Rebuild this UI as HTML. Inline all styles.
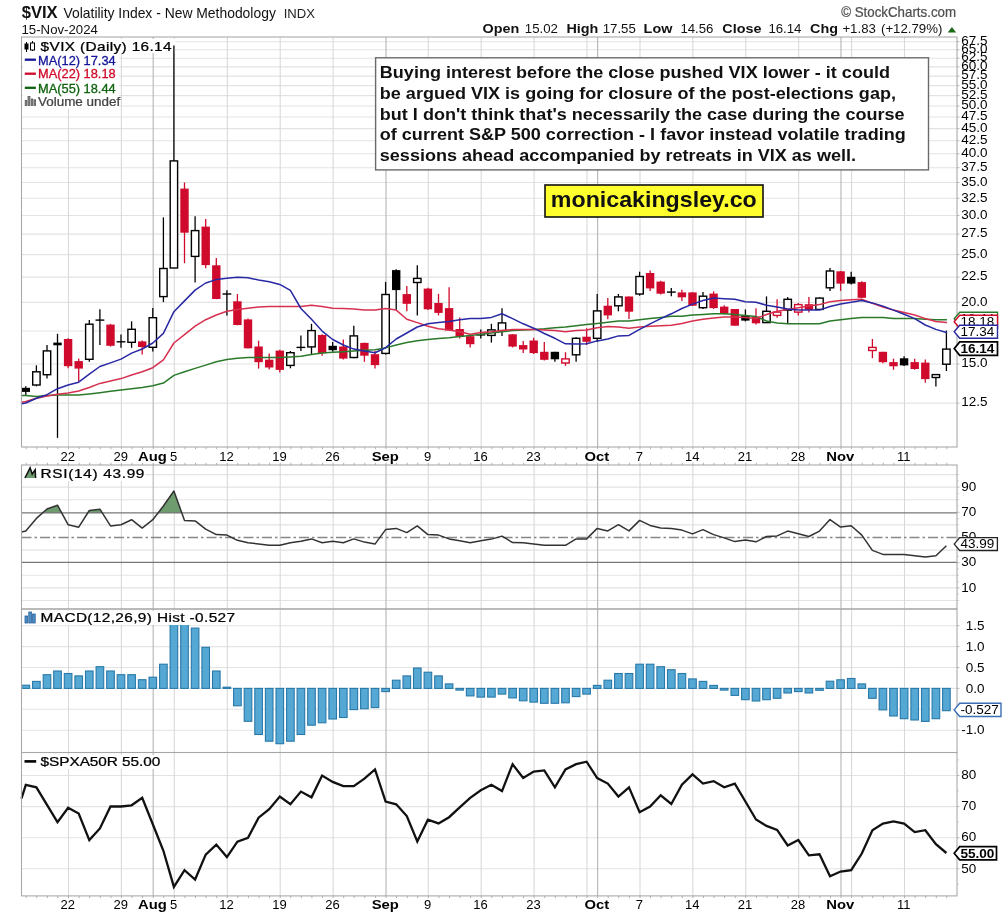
<!DOCTYPE html>
<html><head><meta charset="utf-8"><title>$VIX chart</title>
<style>html,body{margin:0;padding:0;background:#fff}body{width:1004px;height:915px;overflow:hidden;font-family:"Liberation Sans",sans-serif}svg{display:block}</style>
</head><body>
<svg width="1004" height="915" viewBox="0 0 1004 915" font-family="Liberation Sans, sans-serif">
<defs><filter id="soft" x="0" y="0" width="100%" height="100%" filterUnits="userSpaceOnUse" color-interpolation-filters="sRGB"><feGaussianBlur stdDeviation="0.45"/></filter></defs>
<g filter="url(#soft)">
<rect width="1004" height="915" fill="#fff"/>
<line x1="21.5" x2="957.0" y1="403.1" y2="403.1" stroke="#e3e3e3" stroke-width="1.1"/>
<line x1="21.5" x2="957.0" y1="364.0" y2="364.0" stroke="#e3e3e3" stroke-width="1.1"/>
<line x1="21.5" x2="957.0" y1="331.0" y2="331.0" stroke="#e3e3e3" stroke-width="1.1"/>
<line x1="21.5" x2="957.0" y1="302.4" y2="302.4" stroke="#e3e3e3" stroke-width="1.1"/>
<line x1="21.5" x2="957.0" y1="277.1" y2="277.1" stroke="#e3e3e3" stroke-width="1.1"/>
<line x1="21.5" x2="957.0" y1="254.6" y2="254.6" stroke="#e3e3e3" stroke-width="1.1"/>
<line x1="21.5" x2="957.0" y1="234.1" y2="234.1" stroke="#e3e3e3" stroke-width="1.1"/>
<line x1="21.5" x2="957.0" y1="215.5" y2="215.5" stroke="#e3e3e3" stroke-width="1.1"/>
<line x1="21.5" x2="957.0" y1="198.3" y2="198.3" stroke="#e3e3e3" stroke-width="1.1"/>
<line x1="21.5" x2="957.0" y1="182.5" y2="182.5" stroke="#e3e3e3" stroke-width="1.1"/>
<line x1="21.5" x2="957.0" y1="167.7" y2="167.7" stroke="#e3e3e3" stroke-width="1.1"/>
<line x1="21.5" x2="957.0" y1="153.8" y2="153.8" stroke="#e3e3e3" stroke-width="1.1"/>
<line x1="21.5" x2="957.0" y1="140.8" y2="140.8" stroke="#e3e3e3" stroke-width="1.1"/>
<line x1="21.5" x2="957.0" y1="128.6" y2="128.6" stroke="#e3e3e3" stroke-width="1.1"/>
<line x1="21.5" x2="957.0" y1="117.0" y2="117.0" stroke="#e3e3e3" stroke-width="1.1"/>
<line x1="21.5" x2="957.0" y1="106.0" y2="106.0" stroke="#e3e3e3" stroke-width="1.1"/>
<line x1="21.5" x2="957.0" y1="95.6" y2="95.6" stroke="#e3e3e3" stroke-width="1.1"/>
<line x1="21.5" x2="957.0" y1="85.6" y2="85.6" stroke="#e3e3e3" stroke-width="1.1"/>
<line x1="21.5" x2="957.0" y1="76.1" y2="76.1" stroke="#e3e3e3" stroke-width="1.1"/>
<line x1="21.5" x2="957.0" y1="66.9" y2="66.9" stroke="#e3e3e3" stroke-width="1.1"/>
<line x1="21.5" x2="957.0" y1="58.2" y2="58.2" stroke="#e3e3e3" stroke-width="1.1"/>
<line x1="21.5" x2="957.0" y1="49.8" y2="49.8" stroke="#e3e3e3" stroke-width="1.1"/>
<line x1="21.5" x2="957.0" y1="41.7" y2="41.7" stroke="#e3e3e3" stroke-width="1.1"/>
<line x1="68.5" x2="68.5" y1="37.0" y2="447.0" stroke="#d9d9d9" stroke-width="1.1"/>
<line x1="121.4" x2="121.4" y1="37.0" y2="447.0" stroke="#d9d9d9" stroke-width="1.1"/>
<line x1="174.3" x2="174.3" y1="37.0" y2="447.0" stroke="#d9d9d9" stroke-width="1.1"/>
<line x1="227.3" x2="227.3" y1="37.0" y2="447.0" stroke="#d9d9d9" stroke-width="1.1"/>
<line x1="280.2" x2="280.2" y1="37.0" y2="447.0" stroke="#d9d9d9" stroke-width="1.1"/>
<line x1="333.1" x2="333.1" y1="37.0" y2="447.0" stroke="#d9d9d9" stroke-width="1.1"/>
<line x1="428.3" x2="428.3" y1="37.0" y2="447.0" stroke="#d9d9d9" stroke-width="1.1"/>
<line x1="481.2" x2="481.2" y1="37.0" y2="447.0" stroke="#d9d9d9" stroke-width="1.1"/>
<line x1="534.1" x2="534.1" y1="37.0" y2="447.0" stroke="#d9d9d9" stroke-width="1.1"/>
<line x1="587.0" x2="587.0" y1="37.0" y2="447.0" stroke="#d9d9d9" stroke-width="1.1"/>
<line x1="640.0" x2="640.0" y1="37.0" y2="447.0" stroke="#d9d9d9" stroke-width="1.1"/>
<line x1="692.9" x2="692.9" y1="37.0" y2="447.0" stroke="#d9d9d9" stroke-width="1.1"/>
<line x1="745.8" x2="745.8" y1="37.0" y2="447.0" stroke="#d9d9d9" stroke-width="1.1"/>
<line x1="798.7" x2="798.7" y1="37.0" y2="447.0" stroke="#d9d9d9" stroke-width="1.1"/>
<line x1="851.6" x2="851.6" y1="37.0" y2="447.0" stroke="#d9d9d9" stroke-width="1.1"/>
<line x1="904.5" x2="904.5" y1="37.0" y2="447.0" stroke="#d9d9d9" stroke-width="1.1"/>
<line x1="153.2" x2="153.2" y1="37.0" y2="447.0" stroke="#bababa" stroke-width="1.2"/>
<line x1="386.0" x2="386.0" y1="37.0" y2="447.0" stroke="#bababa" stroke-width="1.2"/>
<line x1="597.6" x2="597.6" y1="37.0" y2="447.0" stroke="#bababa" stroke-width="1.2"/>
<line x1="841.0" x2="841.0" y1="37.0" y2="447.0" stroke="#bababa" stroke-width="1.2"/>
<rect x="23" y="39" width="152" height="14" fill="#fff"/>
<rect x="23" y="53" width="96" height="56" fill="#fff"/>
<line x1="25.8" x2="25.8" y1="386.3" y2="395.9" stroke="#000" stroke-width="1.3"/>
<rect x="21.6" y="387.8" width="8.4" height="4.1" fill="#000"/>
<line x1="36.4" x2="36.4" y1="365.3" y2="386.3" stroke="#000" stroke-width="1.3"/>
<rect x="32.7" y="371.8" width="7.4" height="13.2" fill="#fff" stroke="#000" stroke-width="1.4"/>
<line x1="47.0" x2="47.0" y1="344.9" y2="378.6" stroke="#000" stroke-width="1.3"/>
<rect x="43.3" y="350.9" width="7.4" height="23.8" fill="#fff" stroke="#000" stroke-width="1.4"/>
<line x1="57.5" x2="57.5" y1="333.8" y2="437.9" stroke="#000" stroke-width="1.3"/>
<rect x="53.3" y="342.6" width="8.4" height="2.7" fill="#000"/>
<line x1="68.1" x2="68.1" y1="338.2" y2="368.2" stroke="#cf0a2c" stroke-width="1.3"/>
<rect x="63.9" y="339.0" width="8.4" height="27.2" fill="#cf0a2c"/>
<line x1="78.7" x2="78.7" y1="358.6" y2="381.4" stroke="#cf0a2c" stroke-width="1.3"/>
<rect x="74.5" y="361.1" width="8.4" height="7.5" fill="#cf0a2c"/>
<line x1="89.3" x2="89.3" y1="320.1" y2="361.7" stroke="#000" stroke-width="1.3"/>
<rect x="85.6" y="324.2" width="7.4" height="35.1" fill="#fff" stroke="#000" stroke-width="1.4"/>
<line x1="99.9" x2="99.9" y1="309.3" y2="344.9" stroke="#000" stroke-width="1.3"/>
<line x1="95.5" x2="104.3" y1="320.1" y2="320.1" stroke="#000" stroke-width="1.4"/>
<line x1="110.5" x2="110.5" y1="323.8" y2="346.6" stroke="#cf0a2c" stroke-width="1.3"/>
<rect x="106.3" y="324.6" width="8.4" height="21.2" fill="#cf0a2c"/>
<line x1="121.0" x2="121.0" y1="334.6" y2="347.8" stroke="#000" stroke-width="1.3"/>
<line x1="116.6" x2="125.4" y1="341.8" y2="341.8" stroke="#000" stroke-width="1.4"/>
<line x1="131.6" x2="131.6" y1="321.3" y2="347.8" stroke="#000" stroke-width="1.3"/>
<rect x="127.9" y="329.3" width="7.4" height="13.0" fill="#fff" stroke="#000" stroke-width="1.4"/>
<line x1="142.2" x2="142.2" y1="340.6" y2="354.5" stroke="#cf0a2c" stroke-width="1.3"/>
<rect x="138.0" y="341.4" width="8.4" height="5.6" fill="#cf0a2c"/>
<line x1="152.8" x2="152.8" y1="308.1" y2="351.4" stroke="#000" stroke-width="1.3"/>
<rect x="149.1" y="317.7" width="7.4" height="29.6" fill="#fff" stroke="#000" stroke-width="1.4"/>
<line x1="163.4" x2="163.4" y1="217.4" y2="302.1" stroke="#000" stroke-width="1.3"/>
<rect x="159.7" y="268.5" width="7.4" height="28.1" fill="#fff" stroke="#000" stroke-width="1.4"/>
<line x1="173.9" x2="173.9" y1="45.4" y2="268.0" stroke="#000" stroke-width="1.3"/>
<rect x="170.2" y="160.9" width="7.4" height="107.1" fill="#fff" stroke="#000" stroke-width="1.4"/>
<line x1="184.5" x2="184.5" y1="182.5" y2="263.2" stroke="#cf0a2c" stroke-width="1.3"/>
<rect x="180.3" y="188.6" width="8.4" height="44.1" fill="#cf0a2c"/>
<line x1="195.1" x2="195.1" y1="216.2" y2="282.4" stroke="#000" stroke-width="1.3"/>
<rect x="191.4" y="230.6" width="7.4" height="25.8" fill="#fff" stroke="#000" stroke-width="1.4"/>
<line x1="205.7" x2="205.7" y1="219.0" y2="268.3" stroke="#cf0a2c" stroke-width="1.3"/>
<rect x="201.5" y="226.6" width="8.4" height="38.5" fill="#cf0a2c"/>
<line x1="216.3" x2="216.3" y1="258.0" y2="299.3" stroke="#cf0a2c" stroke-width="1.3"/>
<rect x="212.1" y="265.3" width="8.4" height="33.7" fill="#cf0a2c"/>
<line x1="226.9" x2="226.9" y1="290.2" y2="315.4" stroke="#000" stroke-width="1.3"/>
<line x1="222.5" x2="231.3" y1="294.0" y2="294.0" stroke="#000" stroke-width="1.4"/>
<line x1="237.4" x2="237.4" y1="294.0" y2="325.3" stroke="#cf0a2c" stroke-width="1.3"/>
<rect x="233.2" y="301.3" width="8.4" height="23.7" fill="#cf0a2c"/>
<line x1="248.0" x2="248.0" y1="318.6" y2="348.6" stroke="#cf0a2c" stroke-width="1.3"/>
<rect x="243.8" y="319.4" width="8.4" height="28.9" fill="#cf0a2c"/>
<line x1="258.6" x2="258.6" y1="340.7" y2="368.6" stroke="#cf0a2c" stroke-width="1.3"/>
<rect x="254.4" y="346.5" width="8.4" height="15.7" fill="#cf0a2c"/>
<line x1="269.2" x2="269.2" y1="353.4" y2="369.5" stroke="#cf0a2c" stroke-width="1.3"/>
<rect x="265.0" y="359.7" width="8.4" height="7.8" fill="#cf0a2c"/>
<line x1="279.8" x2="279.8" y1="349.8" y2="372.6" stroke="#cf0a2c" stroke-width="1.3"/>
<rect x="275.6" y="350.6" width="8.4" height="19.3" fill="#cf0a2c"/>
<line x1="290.4" x2="290.4" y1="351.0" y2="368.3" stroke="#000" stroke-width="1.3"/>
<rect x="286.7" y="352.7" width="7.4" height="12.7" fill="#fff" stroke="#000" stroke-width="1.4"/>
<line x1="300.9" x2="300.9" y1="335.4" y2="351.0" stroke="#000" stroke-width="1.3"/>
<line x1="296.5" x2="305.3" y1="347.4" y2="347.4" stroke="#000" stroke-width="1.4"/>
<line x1="311.5" x2="311.5" y1="323.8" y2="354.6" stroke="#000" stroke-width="1.3"/>
<rect x="307.8" y="330.6" width="7.4" height="16.3" fill="#fff" stroke="#000" stroke-width="1.4"/>
<line x1="322.1" x2="322.1" y1="334.2" y2="355.8" stroke="#cf0a2c" stroke-width="1.3"/>
<rect x="317.9" y="335.0" width="8.4" height="18.3" fill="#cf0a2c"/>
<line x1="332.7" x2="332.7" y1="342.1" y2="351.7" stroke="#000" stroke-width="1.3"/>
<rect x="328.5" y="345.8" width="8.4" height="4.4" fill="#000"/>
<line x1="343.3" x2="343.3" y1="339.5" y2="359.4" stroke="#cf0a2c" stroke-width="1.3"/>
<rect x="339.1" y="346.5" width="8.4" height="12.1" fill="#cf0a2c"/>
<line x1="353.8" x2="353.8" y1="325.8" y2="358.2" stroke="#000" stroke-width="1.3"/>
<rect x="350.1" y="335.9" width="7.4" height="21.6" fill="#fff" stroke="#000" stroke-width="1.4"/>
<line x1="364.4" x2="364.4" y1="342.6" y2="361.8" stroke="#cf0a2c" stroke-width="1.3"/>
<rect x="360.2" y="342.9" width="8.4" height="12.8" fill="#cf0a2c"/>
<line x1="375.0" x2="375.0" y1="351.0" y2="368.6" stroke="#cf0a2c" stroke-width="1.3"/>
<rect x="370.8" y="354.2" width="8.4" height="10.9" fill="#cf0a2c"/>
<line x1="385.6" x2="385.6" y1="282.0" y2="354.6" stroke="#000" stroke-width="1.3"/>
<rect x="381.9" y="294.5" width="7.4" height="58.9" fill="#fff" stroke="#000" stroke-width="1.4"/>
<line x1="396.2" x2="396.2" y1="269.3" y2="310.1" stroke="#000" stroke-width="1.3"/>
<rect x="392.0" y="270.1" width="8.4" height="20.0" fill="#000"/>
<line x1="406.8" x2="406.8" y1="286.1" y2="311.3" stroke="#cf0a2c" stroke-width="1.3"/>
<rect x="402.6" y="294.1" width="8.4" height="9.7" fill="#cf0a2c"/>
<line x1="417.3" x2="417.3" y1="265.2" y2="315.4" stroke="#000" stroke-width="1.3"/>
<rect x="413.6" y="278.4" width="7.4" height="4.1" fill="#fff" stroke="#000" stroke-width="1.4"/>
<line x1="427.9" x2="427.9" y1="287.8" y2="310.1" stroke="#cf0a2c" stroke-width="1.3"/>
<rect x="423.7" y="288.6" width="8.4" height="20.7" fill="#cf0a2c"/>
<line x1="438.5" x2="438.5" y1="293.8" y2="315.4" stroke="#cf0a2c" stroke-width="1.3"/>
<rect x="434.3" y="303.0" width="8.4" height="9.9" fill="#cf0a2c"/>
<line x1="449.1" x2="449.1" y1="287.3" y2="330.6" stroke="#cf0a2c" stroke-width="1.3"/>
<rect x="444.9" y="308.1" width="8.4" height="22.4" fill="#cf0a2c"/>
<line x1="459.7" x2="459.7" y1="317.4" y2="338.5" stroke="#cf0a2c" stroke-width="1.3"/>
<rect x="455.5" y="329.0" width="8.4" height="8.0" fill="#cf0a2c"/>
<line x1="470.2" x2="470.2" y1="335.4" y2="347.4" stroke="#cf0a2c" stroke-width="1.3"/>
<rect x="466.0" y="336.2" width="8.4" height="8.0" fill="#cf0a2c"/>
<line x1="480.8" x2="480.8" y1="329.4" y2="338.5" stroke="#000" stroke-width="1.3"/>
<line x1="476.4" x2="485.2" y1="334.9" y2="334.9" stroke="#000" stroke-width="1.4"/>
<line x1="491.4" x2="491.4" y1="323.8" y2="342.6" stroke="#000" stroke-width="1.3"/>
<rect x="487.7" y="329.9" width="7.4" height="5.5" fill="#fff" stroke="#000" stroke-width="1.4"/>
<line x1="502.0" x2="502.0" y1="308.2" y2="336.1" stroke="#000" stroke-width="1.3"/>
<rect x="498.3" y="322.9" width="7.4" height="7.7" fill="#fff" stroke="#000" stroke-width="1.4"/>
<line x1="512.6" x2="512.6" y1="334.2" y2="347.4" stroke="#cf0a2c" stroke-width="1.3"/>
<rect x="508.4" y="334.3" width="8.4" height="12.3" fill="#cf0a2c"/>
<line x1="523.2" x2="523.2" y1="340.9" y2="352.9" stroke="#cf0a2c" stroke-width="1.3"/>
<rect x="519.0" y="345.1" width="8.4" height="4.4" fill="#cf0a2c"/>
<line x1="533.7" x2="533.7" y1="337.8" y2="353.9" stroke="#cf0a2c" stroke-width="1.3"/>
<rect x="529.5" y="340.5" width="8.4" height="12.6" fill="#cf0a2c"/>
<line x1="544.3" x2="544.3" y1="341.9" y2="360.6" stroke="#cf0a2c" stroke-width="1.3"/>
<rect x="540.1" y="351.8" width="8.4" height="8.0" fill="#cf0a2c"/>
<line x1="554.9" x2="554.9" y1="351.7" y2="361.8" stroke="#000" stroke-width="1.3"/>
<rect x="550.7" y="351.8" width="8.4" height="7.5" fill="#000"/>
<line x1="565.5" x2="565.5" y1="352.2" y2="365.9" stroke="#cf0a2c" stroke-width="1.3"/>
<rect x="561.8" y="358.9" width="7.4" height="4.1" fill="#fff" stroke="#cf0a2c" stroke-width="1.4"/>
<line x1="576.1" x2="576.1" y1="337.3" y2="361.8" stroke="#000" stroke-width="1.3"/>
<rect x="572.4" y="338.3" width="7.4" height="16.5" fill="#fff" stroke="#000" stroke-width="1.4"/>
<line x1="586.6" x2="586.6" y1="328.2" y2="345.0" stroke="#cf0a2c" stroke-width="1.3"/>
<rect x="582.4" y="336.7" width="8.4" height="5.1" fill="#cf0a2c"/>
<line x1="597.2" x2="597.2" y1="294.0" y2="341.9" stroke="#000" stroke-width="1.3"/>
<rect x="593.5" y="310.9" width="7.4" height="27.4" fill="#fff" stroke="#000" stroke-width="1.4"/>
<line x1="607.8" x2="607.8" y1="298.1" y2="319.3" stroke="#cf0a2c" stroke-width="1.3"/>
<rect x="603.6" y="305.7" width="8.4" height="9.7" fill="#cf0a2c"/>
<line x1="618.4" x2="618.4" y1="294.0" y2="311.3" stroke="#000" stroke-width="1.3"/>
<rect x="614.7" y="296.9" width="7.4" height="8.9" fill="#fff" stroke="#000" stroke-width="1.4"/>
<line x1="629.0" x2="629.0" y1="296.4" y2="319.0" stroke="#cf0a2c" stroke-width="1.3"/>
<rect x="624.8" y="296.5" width="8.4" height="15.2" fill="#cf0a2c"/>
<line x1="639.6" x2="639.6" y1="271.7" y2="295.7" stroke="#000" stroke-width="1.3"/>
<rect x="635.9" y="276.5" width="7.4" height="17.5" fill="#fff" stroke="#000" stroke-width="1.4"/>
<line x1="650.1" x2="650.1" y1="270.5" y2="290.9" stroke="#cf0a2c" stroke-width="1.3"/>
<rect x="645.9" y="273.0" width="8.4" height="15.4" fill="#cf0a2c"/>
<line x1="660.7" x2="660.7" y1="280.8" y2="294.5" stroke="#cf0a2c" stroke-width="1.3"/>
<rect x="656.5" y="281.6" width="8.4" height="12.1" fill="#cf0a2c"/>
<line x1="671.3" x2="671.3" y1="288.0" y2="296.2" stroke="#000" stroke-width="1.3"/>
<line x1="666.9" x2="675.7" y1="292.1" y2="292.1" stroke="#000" stroke-width="1.4"/>
<line x1="681.9" x2="681.9" y1="289.7" y2="301.0" stroke="#cf0a2c" stroke-width="1.3"/>
<rect x="677.7" y="292.4" width="8.4" height="4.9" fill="#cf0a2c"/>
<line x1="692.5" x2="692.5" y1="292.1" y2="306.0" stroke="#cf0a2c" stroke-width="1.3"/>
<rect x="688.3" y="292.4" width="8.4" height="13.3" fill="#cf0a2c"/>
<line x1="703.0" x2="703.0" y1="292.1" y2="308.9" stroke="#000" stroke-width="1.3"/>
<rect x="699.3" y="296.2" width="7.4" height="11.5" fill="#fff" stroke="#000" stroke-width="1.4"/>
<line x1="713.6" x2="713.6" y1="291.4" y2="308.9" stroke="#cf0a2c" stroke-width="1.3"/>
<rect x="709.4" y="293.6" width="8.4" height="14.5" fill="#cf0a2c"/>
<line x1="724.2" x2="724.2" y1="305.3" y2="314.5" stroke="#cf0a2c" stroke-width="1.3"/>
<rect x="720.0" y="306.6" width="8.4" height="7.1" fill="#cf0a2c"/>
<line x1="734.8" x2="734.8" y1="308.9" y2="325.8" stroke="#cf0a2c" stroke-width="1.3"/>
<rect x="730.6" y="309.0" width="8.4" height="16.7" fill="#cf0a2c"/>
<line x1="745.4" x2="745.4" y1="309.4" y2="321.4" stroke="#000" stroke-width="1.3"/>
<rect x="741.2" y="315.8" width="8.4" height="4.8" fill="#000"/>
<line x1="756.0" x2="756.0" y1="308.2" y2="324.6" stroke="#cf0a2c" stroke-width="1.3"/>
<rect x="751.8" y="316.5" width="8.4" height="6.8" fill="#cf0a2c"/>
<line x1="766.5" x2="766.5" y1="296.4" y2="322.9" stroke="#000" stroke-width="1.3"/>
<rect x="762.8" y="311.3" width="7.4" height="11.3" fill="#fff" stroke="#000" stroke-width="1.4"/>
<line x1="777.1" x2="777.1" y1="299.3" y2="317.8" stroke="#cf0a2c" stroke-width="1.3"/>
<rect x="773.4" y="312.1" width="7.4" height="3.3" fill="#fff" stroke="#cf0a2c" stroke-width="1.4"/>
<line x1="787.7" x2="787.7" y1="296.9" y2="323.4" stroke="#000" stroke-width="1.3"/>
<rect x="784.0" y="299.3" width="7.4" height="10.8" fill="#fff" stroke="#000" stroke-width="1.4"/>
<line x1="798.3" x2="798.3" y1="302.9" y2="315.4" stroke="#cf0a2c" stroke-width="1.3"/>
<rect x="794.6" y="304.6" width="7.4" height="7.5" fill="#fff" stroke="#cf0a2c" stroke-width="1.4"/>
<line x1="808.9" x2="808.9" y1="296.9" y2="312.5" stroke="#cf0a2c" stroke-width="1.3"/>
<rect x="804.7" y="304.2" width="8.4" height="5.6" fill="#cf0a2c"/>
<line x1="819.5" x2="819.5" y1="297.4" y2="309.7" stroke="#000" stroke-width="1.3"/>
<rect x="815.8" y="298.1" width="7.4" height="11.3" fill="#fff" stroke="#000" stroke-width="1.4"/>
<line x1="830.0" x2="830.0" y1="268.1" y2="290.9" stroke="#000" stroke-width="1.3"/>
<rect x="826.3" y="271.0" width="7.4" height="16.8" fill="#fff" stroke="#000" stroke-width="1.4"/>
<line x1="840.6" x2="840.6" y1="271.0" y2="290.9" stroke="#cf0a2c" stroke-width="1.3"/>
<rect x="836.4" y="271.3" width="8.4" height="12.3" fill="#cf0a2c"/>
<line x1="851.2" x2="851.2" y1="271.7" y2="284.4" stroke="#000" stroke-width="1.3"/>
<rect x="847.0" y="276.8" width="8.4" height="6.8" fill="#000"/>
<line x1="861.8" x2="861.8" y1="281.3" y2="298.1" stroke="#cf0a2c" stroke-width="1.3"/>
<rect x="857.6" y="282.1" width="8.4" height="15.7" fill="#cf0a2c"/>
<line x1="872.4" x2="872.4" y1="339.0" y2="358.2" stroke="#cf0a2c" stroke-width="1.3"/>
<rect x="868.7" y="347.4" width="7.4" height="3.1" fill="#fff" stroke="#cf0a2c" stroke-width="1.4"/>
<line x1="882.9" x2="882.9" y1="351.7" y2="363.2" stroke="#cf0a2c" stroke-width="1.3"/>
<rect x="878.7" y="351.8" width="8.4" height="10.4" fill="#cf0a2c"/>
<line x1="893.5" x2="893.5" y1="358.7" y2="369.8" stroke="#cf0a2c" stroke-width="1.3"/>
<rect x="889.3" y="362.1" width="8.4" height="4.2" fill="#cf0a2c"/>
<line x1="904.1" x2="904.1" y1="356.3" y2="365.9" stroke="#000" stroke-width="1.3"/>
<rect x="899.9" y="358.3" width="8.4" height="7.1" fill="#000"/>
<line x1="914.7" x2="914.7" y1="358.7" y2="369.8" stroke="#cf0a2c" stroke-width="1.3"/>
<rect x="910.5" y="362.1" width="8.4" height="6.9" fill="#cf0a2c"/>
<line x1="925.3" x2="925.3" y1="359.4" y2="382.7" stroke="#cf0a2c" stroke-width="1.3"/>
<rect x="921.1" y="362.6" width="8.4" height="16.5" fill="#cf0a2c"/>
<line x1="935.9" x2="935.9" y1="374.6" y2="386.6" stroke="#000" stroke-width="1.3"/>
<rect x="932.2" y="374.6" width="7.4" height="2.9" fill="#fff" stroke="#000" stroke-width="1.4"/>
<line x1="946.4" x2="946.4" y1="330.6" y2="371.0" stroke="#000" stroke-width="1.3"/>
<rect x="942.7" y="349.1" width="7.4" height="15.1" fill="#fff" stroke="#000" stroke-width="1.4"/>
<polyline points="21.5,395.4 25.8,395.4 36.4,396.6 47.0,395.4 57.5,394.9 68.1,395.1 78.7,395.1 89.3,393.9 99.9,392.7 110.5,391.3 121.0,389.9 131.6,388.7 142.2,387.5 152.8,385.8 163.4,383.1 173.9,375.4 184.5,371.8 195.1,368.4 205.7,365.1 216.3,361.8 226.9,359.4 237.4,358.2 248.0,357.5 258.6,357.5 269.2,357.5 279.8,357.5 290.4,357.0 300.9,356.3 311.5,354.6 322.1,352.9 332.7,352.2 343.3,351.7 353.8,351.0 364.4,350.3 375.0,349.8 385.6,347.9 396.2,345.0 406.8,342.6 417.3,340.7 427.9,339.5 438.5,338.5 449.1,337.8 459.7,336.6 470.2,335.4 480.8,334.2 491.4,333.0 502.0,331.8 512.6,330.6 523.2,330.1 533.7,329.4 544.3,328.7 554.9,327.7 565.5,327.0 576.1,325.8 586.6,324.6 597.2,323.4 607.8,322.2 618.4,321.0 629.0,321.0 639.6,319.8 650.1,318.6 660.7,317.4 671.3,316.2 681.9,316.2 692.5,315.0 703.0,314.5 713.6,313.8 724.2,313.8 734.8,314.5 745.4,315.4 756.0,316.6 766.5,321.0 777.1,322.9 787.7,323.8 798.3,323.8 808.9,323.8 819.5,323.8 830.0,321.0 840.6,319.8 851.2,318.6 861.8,317.4 872.4,317.4 882.9,317.4 893.5,318.6 904.1,318.6 914.7,318.6 925.3,319.3 935.9,319.8 946.4,319.8" fill="none" stroke="#2a7a2a" stroke-width="1.5" stroke-linejoin="round" stroke-linecap="round"/>
<polyline points="21.5,402.2 25.8,401.5 36.4,398.3 47.0,395.9 57.5,394.2 68.1,393.0 78.7,391.0 89.3,387.5 99.9,383.4 110.5,381.0 121.0,378.6 131.6,375.0 142.2,371.8 152.8,367.7 163.4,359.8 173.9,343.0 184.5,334.6 195.1,326.2 205.7,319.7 216.3,315.0 226.9,311.3 237.4,309.4 248.0,308.2 258.6,307.0 269.2,306.5 279.8,306.5 290.4,306.5 300.9,306.5 311.5,305.3 322.1,306.5 332.7,308.2 343.3,308.5 353.8,308.9 364.4,310.1 375.0,310.1 385.6,308.5 396.2,310.1 406.8,319.3 417.3,322.6 427.9,326.3 438.5,328.7 449.1,330.1 459.7,331.8 470.2,334.2 480.8,332.5 491.4,331.8 502.0,330.6 512.6,329.4 523.2,329.4 533.7,329.4 544.3,330.1 554.9,330.6 565.5,331.8 576.1,330.6 586.6,330.1 597.2,327.7 607.8,326.5 618.4,327.0 629.0,328.2 639.6,327.0 650.1,326.3 660.7,325.8 671.3,325.3 681.9,323.4 692.5,321.0 703.0,319.3 713.6,318.1 724.2,316.9 734.8,316.9 745.4,317.4 756.0,318.6 766.5,314.5 777.1,311.3 787.7,309.4 798.3,307.7 808.9,306.1 819.5,304.6 830.0,301.7 840.6,300.5 851.2,299.8 861.8,299.3 872.4,303.4 882.9,307.0 893.5,310.1 904.1,312.5 914.7,315.0 925.3,318.6 935.9,321.4 946.4,322.6" fill="none" stroke="#d7304f" stroke-width="1.5" stroke-linejoin="round" stroke-linecap="round"/>
<polyline points="21.5,403.8 25.8,403.0 36.4,398.3 47.0,394.7 57.5,388.7 68.1,385.0 78.7,382.2 89.3,374.2 99.9,366.5 110.5,362.9 121.0,359.1 131.6,353.1 142.2,349.0 152.8,343.0 163.4,333.4 173.9,311.7 184.5,300.9 195.1,290.1 205.7,283.0 216.3,279.6 226.9,278.2 237.4,277.2 248.0,277.7 258.6,280.1 269.2,281.8 279.8,284.4 290.4,290.4 300.9,308.5 311.5,319.3 322.1,331.1 332.7,339.5 343.3,345.0 353.8,349.1 364.4,351.0 375.0,352.7 385.6,347.7 396.2,339.0 406.8,333.0 417.3,327.0 427.9,323.8 438.5,322.6 449.1,321.4 459.7,319.8 470.2,318.6 480.8,318.6 491.4,317.4 502.0,313.8 512.6,318.6 523.2,323.8 533.7,328.2 544.3,333.5 554.9,338.3 565.5,343.8 576.1,344.0 586.6,343.8 597.2,340.9 607.8,339.0 618.4,335.9 629.0,335.4 639.6,329.4 650.1,323.8 660.7,318.6 671.3,313.8 681.9,308.5 692.5,304.1 703.0,300.5 713.6,298.1 724.2,298.8 734.8,299.3 745.4,301.7 756.0,302.2 766.5,305.3 777.1,307.0 787.7,308.9 798.3,310.1 808.9,310.1 819.5,310.1 830.0,306.5 840.6,304.1 851.2,302.2 861.8,300.5 872.4,302.9 882.9,306.1 893.5,310.1 904.1,314.2 914.7,318.6 925.3,325.0 935.9,329.4 946.4,332.5" fill="none" stroke="#2828a4" stroke-width="1.5" stroke-linejoin="round" stroke-linecap="round"/>
<rect x="21.5" y="37.0" width="935.5" height="410.0" fill="none" stroke="#a6a6a6" stroke-width="1.05"/>
<line x1="957.0" x2="959.4" y1="403.1" y2="403.1" stroke="#b4b4b4" stroke-width="1"/>
<line x1="957.0" x2="959.4" y1="364.0" y2="364.0" stroke="#b4b4b4" stroke-width="1"/>
<line x1="957.0" x2="959.4" y1="331.0" y2="331.0" stroke="#b4b4b4" stroke-width="1"/>
<line x1="957.0" x2="959.4" y1="302.4" y2="302.4" stroke="#b4b4b4" stroke-width="1"/>
<line x1="957.0" x2="959.4" y1="277.1" y2="277.1" stroke="#b4b4b4" stroke-width="1"/>
<line x1="957.0" x2="959.4" y1="254.6" y2="254.6" stroke="#b4b4b4" stroke-width="1"/>
<line x1="957.0" x2="959.4" y1="234.1" y2="234.1" stroke="#b4b4b4" stroke-width="1"/>
<line x1="957.0" x2="959.4" y1="215.5" y2="215.5" stroke="#b4b4b4" stroke-width="1"/>
<line x1="957.0" x2="959.4" y1="198.3" y2="198.3" stroke="#b4b4b4" stroke-width="1"/>
<line x1="957.0" x2="959.4" y1="182.5" y2="182.5" stroke="#b4b4b4" stroke-width="1"/>
<line x1="957.0" x2="959.4" y1="167.7" y2="167.7" stroke="#b4b4b4" stroke-width="1"/>
<line x1="957.0" x2="959.4" y1="153.8" y2="153.8" stroke="#b4b4b4" stroke-width="1"/>
<line x1="957.0" x2="959.4" y1="140.8" y2="140.8" stroke="#b4b4b4" stroke-width="1"/>
<line x1="957.0" x2="959.4" y1="128.6" y2="128.6" stroke="#b4b4b4" stroke-width="1"/>
<line x1="957.0" x2="959.4" y1="117.0" y2="117.0" stroke="#b4b4b4" stroke-width="1"/>
<line x1="957.0" x2="959.4" y1="106.0" y2="106.0" stroke="#b4b4b4" stroke-width="1"/>
<line x1="957.0" x2="959.4" y1="95.6" y2="95.6" stroke="#b4b4b4" stroke-width="1"/>
<line x1="957.0" x2="959.4" y1="85.6" y2="85.6" stroke="#b4b4b4" stroke-width="1"/>
<line x1="957.0" x2="959.4" y1="76.1" y2="76.1" stroke="#b4b4b4" stroke-width="1"/>
<line x1="957.0" x2="959.4" y1="66.9" y2="66.9" stroke="#b4b4b4" stroke-width="1"/>
<line x1="957.0" x2="959.4" y1="58.2" y2="58.2" stroke="#b4b4b4" stroke-width="1"/>
<line x1="957.0" x2="959.4" y1="49.8" y2="49.8" stroke="#b4b4b4" stroke-width="1"/>
<line x1="957.0" x2="959.4" y1="41.7" y2="41.7" stroke="#b4b4b4" stroke-width="1"/>
<g stroke="#000" stroke-width="1" fill="#000"><line x1="26.5" x2="26.5" y1="42" y2="52"/><rect x="25.0" y="44" width="3" height="5"/><line x1="32.5" x2="32.5" y1="41" y2="51"/><rect x="30.5" y="43" width="4" height="7" fill="#fff"/></g>
<text transform="translate(40.6,50.6) scale(1.24,1)" font-size="12.4" text-anchor="start" letter-spacing="0.3" fill="#000" stroke="#000" stroke-width="0.25">$VIX (Daily) 16.14</text>
<line x1="24.8" x2="35.9" y1="59.7" y2="59.7" stroke="#15159a" stroke-width="2.3"/>
<text transform="translate(38.0,64.6) scale(1.035,1)" font-size="12.4" text-anchor="start" fill="#15159a" stroke="#15159a" stroke-width="0.3">MA(12) 17.34</text>
<line x1="24.8" x2="35.9" y1="73.7" y2="73.7" stroke="#cf0a2c" stroke-width="2.3"/>
<text transform="translate(38.0,78.4) scale(1.035,1)" font-size="12.4" text-anchor="start" fill="#cf0a2c" stroke="#cf0a2c" stroke-width="0.3">MA(22) 18.18</text>
<line x1="24.8" x2="35.9" y1="87.8" y2="87.8" stroke="#0f620f" stroke-width="2.3"/>
<text transform="translate(38.0,92.5) scale(1.035,1)" font-size="12.4" text-anchor="start" fill="#0f620f" stroke="#0f620f" stroke-width="0.3">MA(55) 18.44</text>
<g fill="#8a8a8a" stroke="#555" stroke-width="0.8"><rect x="25.2" y="100.5" width="1.6" height="5"/><rect x="28" y="96.5" width="1.9" height="9"/><rect x="31.2" y="99" width="1.6" height="6.5"/><rect x="34" y="99.8" width="1.6" height="5.7"/></g>
<text transform="translate(38.0,105.8) scale(1.085,1)" font-size="12.4" text-anchor="start" fill="#444" stroke="#444" stroke-width="0.25">Volume undef</text>
<text transform="translate(961.2,406.3) scale(1.08,1)" font-size="12.5" text-anchor="start" fill="#000" >12.5</text>
<text transform="translate(961.2,367.2) scale(1.08,1)" font-size="12.5" text-anchor="start" fill="#000" >15.0</text>
<text transform="translate(961.2,334.2) scale(1.08,1)" font-size="12.5" text-anchor="start" fill="#000" >17.5</text>
<text transform="translate(961.2,305.6) scale(1.08,1)" font-size="12.5" text-anchor="start" fill="#000" >20.0</text>
<text transform="translate(961.2,280.3) scale(1.08,1)" font-size="12.5" text-anchor="start" fill="#000" >22.5</text>
<text transform="translate(961.2,257.8) scale(1.08,1)" font-size="12.5" text-anchor="start" fill="#000" >25.0</text>
<text transform="translate(961.2,237.3) scale(1.08,1)" font-size="12.5" text-anchor="start" fill="#000" >27.5</text>
<text transform="translate(961.2,218.7) scale(1.08,1)" font-size="12.5" text-anchor="start" fill="#000" >30.0</text>
<text transform="translate(961.2,201.5) scale(1.08,1)" font-size="12.5" text-anchor="start" fill="#000" >32.5</text>
<text transform="translate(961.2,185.7) scale(1.08,1)" font-size="12.5" text-anchor="start" fill="#000" >35.0</text>
<text transform="translate(961.2,170.9) scale(1.08,1)" font-size="12.5" text-anchor="start" fill="#000" >37.5</text>
<text transform="translate(961.2,157.0) scale(1.08,1)" font-size="12.5" text-anchor="start" fill="#000" >40.0</text>
<text transform="translate(961.2,144.0) scale(1.08,1)" font-size="12.5" text-anchor="start" fill="#000" >42.5</text>
<text transform="translate(961.2,131.8) scale(1.08,1)" font-size="12.5" text-anchor="start" fill="#000" >45.0</text>
<text transform="translate(961.2,120.2) scale(1.08,1)" font-size="12.5" text-anchor="start" fill="#000" >47.5</text>
<text transform="translate(961.2,109.2) scale(1.08,1)" font-size="12.5" text-anchor="start" fill="#000" >50.0</text>
<text transform="translate(961.2,98.8) scale(1.08,1)" font-size="12.5" text-anchor="start" fill="#000" >52.5</text>
<text transform="translate(961.2,88.8) scale(1.08,1)" font-size="12.5" text-anchor="start" fill="#000" >55.0</text>
<text transform="translate(961.2,79.3) scale(1.08,1)" font-size="12.5" text-anchor="start" fill="#000" >57.5</text>
<text transform="translate(961.2,70.1) scale(1.08,1)" font-size="12.5" text-anchor="start" fill="#000" >60.0</text>
<text transform="translate(961.2,61.4) scale(1.08,1)" font-size="12.5" text-anchor="start" fill="#000" >62.5</text>
<text transform="translate(961.2,53.0) scale(1.08,1)" font-size="12.5" text-anchor="start" fill="#000" >65.0</text>
<text transform="translate(961.2,44.9) scale(1.08,1)" font-size="12.5" text-anchor="start" fill="#000" >67.5</text>
<polygon points="954.2,318.8 959.7,312.3 997.5,312.3 997.5,325.3 959.7,325.3" fill="#fff" stroke="#2a7a2a" stroke-width="1.4" stroke-linejoin="miter"/>
<text transform="translate(960.4,323.1) scale(1.08,1)" font-size="12.5" text-anchor="start" fill="#000" >18.44</text>
<polygon points="954.2,321.8 959.7,315.3 997.5,315.3 997.5,328.3 959.7,328.3" fill="#fff" stroke="#cf0a2c" stroke-width="1.4" stroke-linejoin="miter"/>
<text transform="translate(960.4,326.1) scale(1.08,1)" font-size="12.5" text-anchor="start" fill="#000" >18.18</text>
<polygon points="954.2,331.8 959.7,325.3 997.5,325.3 997.5,338.3 959.7,338.3" fill="#fff" stroke="#2a2aa0" stroke-width="1.4" stroke-linejoin="miter"/>
<text transform="translate(960.4,336.1) scale(1.08,1)" font-size="12.5" text-anchor="start" fill="#000" >17.34</text>
<polygon points="954.2,348.6 959.7,341.9 997.5,341.9 997.5,355.3 959.7,355.3" fill="#fff" stroke="#000" stroke-width="1.7" stroke-linejoin="miter"/>
<text transform="translate(960.4,353.1) scale(1.0,1)" font-size="13.6" text-anchor="start" font-weight="bold" fill="#000" >16.14</text>
<rect x="375.6" y="57.8" width="552.9" height="112.1" fill="#fff" stroke="#6a6a6a" stroke-width="1.4"/>
<text transform="translate(379.8,78.4) scale(1.037,1)" font-size="17.4" text-anchor="start" font-weight="bold" fill="#111" >Buying interest before the close pushed VIX lower - it could</text>
<text transform="translate(379.8,99.0) scale(1.037,1)" font-size="17.4" text-anchor="start" font-weight="bold" fill="#111" >be argued VIX is going for closure of the post-elections gap,</text>
<text transform="translate(379.8,119.5) scale(1.037,1)" font-size="17.4" text-anchor="start" font-weight="bold" fill="#111" >but I don't think that's necessarily the case during the course</text>
<text transform="translate(379.8,140.1) scale(1.037,1)" font-size="17.4" text-anchor="start" font-weight="bold" fill="#111" >of current S&amp;P 500 correction - I favor instead volatile trading</text>
<text transform="translate(379.8,160.6) scale(1.037,1)" font-size="17.4" text-anchor="start" font-weight="bold" fill="#111" >sessions ahead accompanied by retreats in VIX as well.</text>
<rect x="545" y="185" width="218" height="32" fill="#ffff2e" stroke="#111" stroke-width="1.6"/>
<text transform="translate(653.8,207.4) scale(1.08,1)" font-size="21.5" text-anchor="middle" font-weight="bold" fill="#111" >monicakingsley.co</text>
<line x1="26.2" x2="26.2" y1="447.0" y2="449.2" stroke="#b0b0b0" stroke-width="1"/>
<line x1="36.8" x2="36.8" y1="447.0" y2="449.2" stroke="#b0b0b0" stroke-width="1"/>
<line x1="47.4" x2="47.4" y1="447.0" y2="449.2" stroke="#b0b0b0" stroke-width="1"/>
<line x1="57.9" x2="57.9" y1="447.0" y2="449.2" stroke="#b0b0b0" stroke-width="1"/>
<line x1="68.5" x2="68.5" y1="447.0" y2="449.2" stroke="#b0b0b0" stroke-width="1"/>
<line x1="79.1" x2="79.1" y1="447.0" y2="449.2" stroke="#b0b0b0" stroke-width="1"/>
<line x1="89.7" x2="89.7" y1="447.0" y2="449.2" stroke="#b0b0b0" stroke-width="1"/>
<line x1="100.3" x2="100.3" y1="447.0" y2="449.2" stroke="#b0b0b0" stroke-width="1"/>
<line x1="110.9" x2="110.9" y1="447.0" y2="449.2" stroke="#b0b0b0" stroke-width="1"/>
<line x1="121.4" x2="121.4" y1="447.0" y2="449.2" stroke="#b0b0b0" stroke-width="1"/>
<line x1="132.0" x2="132.0" y1="447.0" y2="449.2" stroke="#b0b0b0" stroke-width="1"/>
<line x1="142.6" x2="142.6" y1="447.0" y2="449.2" stroke="#b0b0b0" stroke-width="1"/>
<line x1="153.2" x2="153.2" y1="447.0" y2="449.2" stroke="#b0b0b0" stroke-width="1"/>
<line x1="163.8" x2="163.8" y1="447.0" y2="449.2" stroke="#b0b0b0" stroke-width="1"/>
<line x1="174.3" x2="174.3" y1="447.0" y2="449.2" stroke="#b0b0b0" stroke-width="1"/>
<line x1="184.9" x2="184.9" y1="447.0" y2="449.2" stroke="#b0b0b0" stroke-width="1"/>
<line x1="195.5" x2="195.5" y1="447.0" y2="449.2" stroke="#b0b0b0" stroke-width="1"/>
<line x1="206.1" x2="206.1" y1="447.0" y2="449.2" stroke="#b0b0b0" stroke-width="1"/>
<line x1="216.7" x2="216.7" y1="447.0" y2="449.2" stroke="#b0b0b0" stroke-width="1"/>
<line x1="227.3" x2="227.3" y1="447.0" y2="449.2" stroke="#b0b0b0" stroke-width="1"/>
<line x1="237.8" x2="237.8" y1="447.0" y2="449.2" stroke="#b0b0b0" stroke-width="1"/>
<line x1="248.4" x2="248.4" y1="447.0" y2="449.2" stroke="#b0b0b0" stroke-width="1"/>
<line x1="259.0" x2="259.0" y1="447.0" y2="449.2" stroke="#b0b0b0" stroke-width="1"/>
<line x1="269.6" x2="269.6" y1="447.0" y2="449.2" stroke="#b0b0b0" stroke-width="1"/>
<line x1="280.2" x2="280.2" y1="447.0" y2="449.2" stroke="#b0b0b0" stroke-width="1"/>
<line x1="290.8" x2="290.8" y1="447.0" y2="449.2" stroke="#b0b0b0" stroke-width="1"/>
<line x1="301.3" x2="301.3" y1="447.0" y2="449.2" stroke="#b0b0b0" stroke-width="1"/>
<line x1="311.9" x2="311.9" y1="447.0" y2="449.2" stroke="#b0b0b0" stroke-width="1"/>
<line x1="322.5" x2="322.5" y1="447.0" y2="449.2" stroke="#b0b0b0" stroke-width="1"/>
<line x1="333.1" x2="333.1" y1="447.0" y2="449.2" stroke="#b0b0b0" stroke-width="1"/>
<line x1="343.7" x2="343.7" y1="447.0" y2="449.2" stroke="#b0b0b0" stroke-width="1"/>
<line x1="354.2" x2="354.2" y1="447.0" y2="449.2" stroke="#b0b0b0" stroke-width="1"/>
<line x1="364.8" x2="364.8" y1="447.0" y2="449.2" stroke="#b0b0b0" stroke-width="1"/>
<line x1="375.4" x2="375.4" y1="447.0" y2="449.2" stroke="#b0b0b0" stroke-width="1"/>
<line x1="386.0" x2="386.0" y1="447.0" y2="449.2" stroke="#b0b0b0" stroke-width="1"/>
<line x1="396.6" x2="396.6" y1="447.0" y2="449.2" stroke="#b0b0b0" stroke-width="1"/>
<line x1="407.2" x2="407.2" y1="447.0" y2="449.2" stroke="#b0b0b0" stroke-width="1"/>
<line x1="417.7" x2="417.7" y1="447.0" y2="449.2" stroke="#b0b0b0" stroke-width="1"/>
<line x1="428.3" x2="428.3" y1="447.0" y2="449.2" stroke="#b0b0b0" stroke-width="1"/>
<line x1="438.9" x2="438.9" y1="447.0" y2="449.2" stroke="#b0b0b0" stroke-width="1"/>
<line x1="449.5" x2="449.5" y1="447.0" y2="449.2" stroke="#b0b0b0" stroke-width="1"/>
<line x1="460.1" x2="460.1" y1="447.0" y2="449.2" stroke="#b0b0b0" stroke-width="1"/>
<line x1="470.6" x2="470.6" y1="447.0" y2="449.2" stroke="#b0b0b0" stroke-width="1"/>
<line x1="481.2" x2="481.2" y1="447.0" y2="449.2" stroke="#b0b0b0" stroke-width="1"/>
<line x1="491.8" x2="491.8" y1="447.0" y2="449.2" stroke="#b0b0b0" stroke-width="1"/>
<line x1="502.4" x2="502.4" y1="447.0" y2="449.2" stroke="#b0b0b0" stroke-width="1"/>
<line x1="513.0" x2="513.0" y1="447.0" y2="449.2" stroke="#b0b0b0" stroke-width="1"/>
<line x1="523.6" x2="523.6" y1="447.0" y2="449.2" stroke="#b0b0b0" stroke-width="1"/>
<line x1="534.1" x2="534.1" y1="447.0" y2="449.2" stroke="#b0b0b0" stroke-width="1"/>
<line x1="544.7" x2="544.7" y1="447.0" y2="449.2" stroke="#b0b0b0" stroke-width="1"/>
<line x1="555.3" x2="555.3" y1="447.0" y2="449.2" stroke="#b0b0b0" stroke-width="1"/>
<line x1="565.9" x2="565.9" y1="447.0" y2="449.2" stroke="#b0b0b0" stroke-width="1"/>
<line x1="576.5" x2="576.5" y1="447.0" y2="449.2" stroke="#b0b0b0" stroke-width="1"/>
<line x1="587.0" x2="587.0" y1="447.0" y2="449.2" stroke="#b0b0b0" stroke-width="1"/>
<line x1="597.6" x2="597.6" y1="447.0" y2="449.2" stroke="#b0b0b0" stroke-width="1"/>
<line x1="608.2" x2="608.2" y1="447.0" y2="449.2" stroke="#b0b0b0" stroke-width="1"/>
<line x1="618.8" x2="618.8" y1="447.0" y2="449.2" stroke="#b0b0b0" stroke-width="1"/>
<line x1="629.4" x2="629.4" y1="447.0" y2="449.2" stroke="#b0b0b0" stroke-width="1"/>
<line x1="640.0" x2="640.0" y1="447.0" y2="449.2" stroke="#b0b0b0" stroke-width="1"/>
<line x1="650.5" x2="650.5" y1="447.0" y2="449.2" stroke="#b0b0b0" stroke-width="1"/>
<line x1="661.1" x2="661.1" y1="447.0" y2="449.2" stroke="#b0b0b0" stroke-width="1"/>
<line x1="671.7" x2="671.7" y1="447.0" y2="449.2" stroke="#b0b0b0" stroke-width="1"/>
<line x1="682.3" x2="682.3" y1="447.0" y2="449.2" stroke="#b0b0b0" stroke-width="1"/>
<line x1="692.9" x2="692.9" y1="447.0" y2="449.2" stroke="#b0b0b0" stroke-width="1"/>
<line x1="703.4" x2="703.4" y1="447.0" y2="449.2" stroke="#b0b0b0" stroke-width="1"/>
<line x1="714.0" x2="714.0" y1="447.0" y2="449.2" stroke="#b0b0b0" stroke-width="1"/>
<line x1="724.6" x2="724.6" y1="447.0" y2="449.2" stroke="#b0b0b0" stroke-width="1"/>
<line x1="735.2" x2="735.2" y1="447.0" y2="449.2" stroke="#b0b0b0" stroke-width="1"/>
<line x1="745.8" x2="745.8" y1="447.0" y2="449.2" stroke="#b0b0b0" stroke-width="1"/>
<line x1="756.4" x2="756.4" y1="447.0" y2="449.2" stroke="#b0b0b0" stroke-width="1"/>
<line x1="766.9" x2="766.9" y1="447.0" y2="449.2" stroke="#b0b0b0" stroke-width="1"/>
<line x1="777.5" x2="777.5" y1="447.0" y2="449.2" stroke="#b0b0b0" stroke-width="1"/>
<line x1="788.1" x2="788.1" y1="447.0" y2="449.2" stroke="#b0b0b0" stroke-width="1"/>
<line x1="798.7" x2="798.7" y1="447.0" y2="449.2" stroke="#b0b0b0" stroke-width="1"/>
<line x1="809.3" x2="809.3" y1="447.0" y2="449.2" stroke="#b0b0b0" stroke-width="1"/>
<line x1="819.9" x2="819.9" y1="447.0" y2="449.2" stroke="#b0b0b0" stroke-width="1"/>
<line x1="830.4" x2="830.4" y1="447.0" y2="449.2" stroke="#b0b0b0" stroke-width="1"/>
<line x1="841.0" x2="841.0" y1="447.0" y2="449.2" stroke="#b0b0b0" stroke-width="1"/>
<line x1="851.6" x2="851.6" y1="447.0" y2="449.2" stroke="#b0b0b0" stroke-width="1"/>
<line x1="862.2" x2="862.2" y1="447.0" y2="449.2" stroke="#b0b0b0" stroke-width="1"/>
<line x1="872.8" x2="872.8" y1="447.0" y2="449.2" stroke="#b0b0b0" stroke-width="1"/>
<line x1="883.3" x2="883.3" y1="447.0" y2="449.2" stroke="#b0b0b0" stroke-width="1"/>
<line x1="893.9" x2="893.9" y1="447.0" y2="449.2" stroke="#b0b0b0" stroke-width="1"/>
<line x1="904.5" x2="904.5" y1="447.0" y2="449.2" stroke="#b0b0b0" stroke-width="1"/>
<line x1="915.1" x2="915.1" y1="447.0" y2="449.2" stroke="#b0b0b0" stroke-width="1"/>
<line x1="925.7" x2="925.7" y1="447.0" y2="449.2" stroke="#b0b0b0" stroke-width="1"/>
<line x1="936.3" x2="936.3" y1="447.0" y2="449.2" stroke="#b0b0b0" stroke-width="1"/>
<line x1="946.8" x2="946.8" y1="447.0" y2="449.2" stroke="#b0b0b0" stroke-width="1"/>
<line x1="26.2" x2="26.2" y1="462.8" y2="465.0" stroke="#b0b0b0" stroke-width="1"/>
<line x1="36.8" x2="36.8" y1="462.8" y2="465.0" stroke="#b0b0b0" stroke-width="1"/>
<line x1="47.4" x2="47.4" y1="462.8" y2="465.0" stroke="#b0b0b0" stroke-width="1"/>
<line x1="57.9" x2="57.9" y1="462.8" y2="465.0" stroke="#b0b0b0" stroke-width="1"/>
<line x1="68.5" x2="68.5" y1="462.8" y2="465.0" stroke="#b0b0b0" stroke-width="1"/>
<line x1="79.1" x2="79.1" y1="462.8" y2="465.0" stroke="#b0b0b0" stroke-width="1"/>
<line x1="89.7" x2="89.7" y1="462.8" y2="465.0" stroke="#b0b0b0" stroke-width="1"/>
<line x1="100.3" x2="100.3" y1="462.8" y2="465.0" stroke="#b0b0b0" stroke-width="1"/>
<line x1="110.9" x2="110.9" y1="462.8" y2="465.0" stroke="#b0b0b0" stroke-width="1"/>
<line x1="121.4" x2="121.4" y1="462.8" y2="465.0" stroke="#b0b0b0" stroke-width="1"/>
<line x1="132.0" x2="132.0" y1="462.8" y2="465.0" stroke="#b0b0b0" stroke-width="1"/>
<line x1="142.6" x2="142.6" y1="462.8" y2="465.0" stroke="#b0b0b0" stroke-width="1"/>
<line x1="153.2" x2="153.2" y1="462.8" y2="465.0" stroke="#b0b0b0" stroke-width="1"/>
<line x1="163.8" x2="163.8" y1="462.8" y2="465.0" stroke="#b0b0b0" stroke-width="1"/>
<line x1="174.3" x2="174.3" y1="462.8" y2="465.0" stroke="#b0b0b0" stroke-width="1"/>
<line x1="184.9" x2="184.9" y1="462.8" y2="465.0" stroke="#b0b0b0" stroke-width="1"/>
<line x1="195.5" x2="195.5" y1="462.8" y2="465.0" stroke="#b0b0b0" stroke-width="1"/>
<line x1="206.1" x2="206.1" y1="462.8" y2="465.0" stroke="#b0b0b0" stroke-width="1"/>
<line x1="216.7" x2="216.7" y1="462.8" y2="465.0" stroke="#b0b0b0" stroke-width="1"/>
<line x1="227.3" x2="227.3" y1="462.8" y2="465.0" stroke="#b0b0b0" stroke-width="1"/>
<line x1="237.8" x2="237.8" y1="462.8" y2="465.0" stroke="#b0b0b0" stroke-width="1"/>
<line x1="248.4" x2="248.4" y1="462.8" y2="465.0" stroke="#b0b0b0" stroke-width="1"/>
<line x1="259.0" x2="259.0" y1="462.8" y2="465.0" stroke="#b0b0b0" stroke-width="1"/>
<line x1="269.6" x2="269.6" y1="462.8" y2="465.0" stroke="#b0b0b0" stroke-width="1"/>
<line x1="280.2" x2="280.2" y1="462.8" y2="465.0" stroke="#b0b0b0" stroke-width="1"/>
<line x1="290.8" x2="290.8" y1="462.8" y2="465.0" stroke="#b0b0b0" stroke-width="1"/>
<line x1="301.3" x2="301.3" y1="462.8" y2="465.0" stroke="#b0b0b0" stroke-width="1"/>
<line x1="311.9" x2="311.9" y1="462.8" y2="465.0" stroke="#b0b0b0" stroke-width="1"/>
<line x1="322.5" x2="322.5" y1="462.8" y2="465.0" stroke="#b0b0b0" stroke-width="1"/>
<line x1="333.1" x2="333.1" y1="462.8" y2="465.0" stroke="#b0b0b0" stroke-width="1"/>
<line x1="343.7" x2="343.7" y1="462.8" y2="465.0" stroke="#b0b0b0" stroke-width="1"/>
<line x1="354.2" x2="354.2" y1="462.8" y2="465.0" stroke="#b0b0b0" stroke-width="1"/>
<line x1="364.8" x2="364.8" y1="462.8" y2="465.0" stroke="#b0b0b0" stroke-width="1"/>
<line x1="375.4" x2="375.4" y1="462.8" y2="465.0" stroke="#b0b0b0" stroke-width="1"/>
<line x1="386.0" x2="386.0" y1="462.8" y2="465.0" stroke="#b0b0b0" stroke-width="1"/>
<line x1="396.6" x2="396.6" y1="462.8" y2="465.0" stroke="#b0b0b0" stroke-width="1"/>
<line x1="407.2" x2="407.2" y1="462.8" y2="465.0" stroke="#b0b0b0" stroke-width="1"/>
<line x1="417.7" x2="417.7" y1="462.8" y2="465.0" stroke="#b0b0b0" stroke-width="1"/>
<line x1="428.3" x2="428.3" y1="462.8" y2="465.0" stroke="#b0b0b0" stroke-width="1"/>
<line x1="438.9" x2="438.9" y1="462.8" y2="465.0" stroke="#b0b0b0" stroke-width="1"/>
<line x1="449.5" x2="449.5" y1="462.8" y2="465.0" stroke="#b0b0b0" stroke-width="1"/>
<line x1="460.1" x2="460.1" y1="462.8" y2="465.0" stroke="#b0b0b0" stroke-width="1"/>
<line x1="470.6" x2="470.6" y1="462.8" y2="465.0" stroke="#b0b0b0" stroke-width="1"/>
<line x1="481.2" x2="481.2" y1="462.8" y2="465.0" stroke="#b0b0b0" stroke-width="1"/>
<line x1="491.8" x2="491.8" y1="462.8" y2="465.0" stroke="#b0b0b0" stroke-width="1"/>
<line x1="502.4" x2="502.4" y1="462.8" y2="465.0" stroke="#b0b0b0" stroke-width="1"/>
<line x1="513.0" x2="513.0" y1="462.8" y2="465.0" stroke="#b0b0b0" stroke-width="1"/>
<line x1="523.6" x2="523.6" y1="462.8" y2="465.0" stroke="#b0b0b0" stroke-width="1"/>
<line x1="534.1" x2="534.1" y1="462.8" y2="465.0" stroke="#b0b0b0" stroke-width="1"/>
<line x1="544.7" x2="544.7" y1="462.8" y2="465.0" stroke="#b0b0b0" stroke-width="1"/>
<line x1="555.3" x2="555.3" y1="462.8" y2="465.0" stroke="#b0b0b0" stroke-width="1"/>
<line x1="565.9" x2="565.9" y1="462.8" y2="465.0" stroke="#b0b0b0" stroke-width="1"/>
<line x1="576.5" x2="576.5" y1="462.8" y2="465.0" stroke="#b0b0b0" stroke-width="1"/>
<line x1="587.0" x2="587.0" y1="462.8" y2="465.0" stroke="#b0b0b0" stroke-width="1"/>
<line x1="597.6" x2="597.6" y1="462.8" y2="465.0" stroke="#b0b0b0" stroke-width="1"/>
<line x1="608.2" x2="608.2" y1="462.8" y2="465.0" stroke="#b0b0b0" stroke-width="1"/>
<line x1="618.8" x2="618.8" y1="462.8" y2="465.0" stroke="#b0b0b0" stroke-width="1"/>
<line x1="629.4" x2="629.4" y1="462.8" y2="465.0" stroke="#b0b0b0" stroke-width="1"/>
<line x1="640.0" x2="640.0" y1="462.8" y2="465.0" stroke="#b0b0b0" stroke-width="1"/>
<line x1="650.5" x2="650.5" y1="462.8" y2="465.0" stroke="#b0b0b0" stroke-width="1"/>
<line x1="661.1" x2="661.1" y1="462.8" y2="465.0" stroke="#b0b0b0" stroke-width="1"/>
<line x1="671.7" x2="671.7" y1="462.8" y2="465.0" stroke="#b0b0b0" stroke-width="1"/>
<line x1="682.3" x2="682.3" y1="462.8" y2="465.0" stroke="#b0b0b0" stroke-width="1"/>
<line x1="692.9" x2="692.9" y1="462.8" y2="465.0" stroke="#b0b0b0" stroke-width="1"/>
<line x1="703.4" x2="703.4" y1="462.8" y2="465.0" stroke="#b0b0b0" stroke-width="1"/>
<line x1="714.0" x2="714.0" y1="462.8" y2="465.0" stroke="#b0b0b0" stroke-width="1"/>
<line x1="724.6" x2="724.6" y1="462.8" y2="465.0" stroke="#b0b0b0" stroke-width="1"/>
<line x1="735.2" x2="735.2" y1="462.8" y2="465.0" stroke="#b0b0b0" stroke-width="1"/>
<line x1="745.8" x2="745.8" y1="462.8" y2="465.0" stroke="#b0b0b0" stroke-width="1"/>
<line x1="756.4" x2="756.4" y1="462.8" y2="465.0" stroke="#b0b0b0" stroke-width="1"/>
<line x1="766.9" x2="766.9" y1="462.8" y2="465.0" stroke="#b0b0b0" stroke-width="1"/>
<line x1="777.5" x2="777.5" y1="462.8" y2="465.0" stroke="#b0b0b0" stroke-width="1"/>
<line x1="788.1" x2="788.1" y1="462.8" y2="465.0" stroke="#b0b0b0" stroke-width="1"/>
<line x1="798.7" x2="798.7" y1="462.8" y2="465.0" stroke="#b0b0b0" stroke-width="1"/>
<line x1="809.3" x2="809.3" y1="462.8" y2="465.0" stroke="#b0b0b0" stroke-width="1"/>
<line x1="819.9" x2="819.9" y1="462.8" y2="465.0" stroke="#b0b0b0" stroke-width="1"/>
<line x1="830.4" x2="830.4" y1="462.8" y2="465.0" stroke="#b0b0b0" stroke-width="1"/>
<line x1="841.0" x2="841.0" y1="462.8" y2="465.0" stroke="#b0b0b0" stroke-width="1"/>
<line x1="851.6" x2="851.6" y1="462.8" y2="465.0" stroke="#b0b0b0" stroke-width="1"/>
<line x1="862.2" x2="862.2" y1="462.8" y2="465.0" stroke="#b0b0b0" stroke-width="1"/>
<line x1="872.8" x2="872.8" y1="462.8" y2="465.0" stroke="#b0b0b0" stroke-width="1"/>
<line x1="883.3" x2="883.3" y1="462.8" y2="465.0" stroke="#b0b0b0" stroke-width="1"/>
<line x1="893.9" x2="893.9" y1="462.8" y2="465.0" stroke="#b0b0b0" stroke-width="1"/>
<line x1="904.5" x2="904.5" y1="462.8" y2="465.0" stroke="#b0b0b0" stroke-width="1"/>
<line x1="915.1" x2="915.1" y1="462.8" y2="465.0" stroke="#b0b0b0" stroke-width="1"/>
<line x1="925.7" x2="925.7" y1="462.8" y2="465.0" stroke="#b0b0b0" stroke-width="1"/>
<line x1="936.3" x2="936.3" y1="462.8" y2="465.0" stroke="#b0b0b0" stroke-width="1"/>
<line x1="946.8" x2="946.8" y1="462.8" y2="465.0" stroke="#b0b0b0" stroke-width="1"/>
<line x1="26.2" x2="26.2" y1="895.9" y2="898.1" stroke="#b0b0b0" stroke-width="1"/>
<line x1="36.8" x2="36.8" y1="895.9" y2="898.1" stroke="#b0b0b0" stroke-width="1"/>
<line x1="47.4" x2="47.4" y1="895.9" y2="898.1" stroke="#b0b0b0" stroke-width="1"/>
<line x1="57.9" x2="57.9" y1="895.9" y2="898.1" stroke="#b0b0b0" stroke-width="1"/>
<line x1="68.5" x2="68.5" y1="895.9" y2="898.1" stroke="#b0b0b0" stroke-width="1"/>
<line x1="79.1" x2="79.1" y1="895.9" y2="898.1" stroke="#b0b0b0" stroke-width="1"/>
<line x1="89.7" x2="89.7" y1="895.9" y2="898.1" stroke="#b0b0b0" stroke-width="1"/>
<line x1="100.3" x2="100.3" y1="895.9" y2="898.1" stroke="#b0b0b0" stroke-width="1"/>
<line x1="110.9" x2="110.9" y1="895.9" y2="898.1" stroke="#b0b0b0" stroke-width="1"/>
<line x1="121.4" x2="121.4" y1="895.9" y2="898.1" stroke="#b0b0b0" stroke-width="1"/>
<line x1="132.0" x2="132.0" y1="895.9" y2="898.1" stroke="#b0b0b0" stroke-width="1"/>
<line x1="142.6" x2="142.6" y1="895.9" y2="898.1" stroke="#b0b0b0" stroke-width="1"/>
<line x1="153.2" x2="153.2" y1="895.9" y2="898.1" stroke="#b0b0b0" stroke-width="1"/>
<line x1="163.8" x2="163.8" y1="895.9" y2="898.1" stroke="#b0b0b0" stroke-width="1"/>
<line x1="174.3" x2="174.3" y1="895.9" y2="898.1" stroke="#b0b0b0" stroke-width="1"/>
<line x1="184.9" x2="184.9" y1="895.9" y2="898.1" stroke="#b0b0b0" stroke-width="1"/>
<line x1="195.5" x2="195.5" y1="895.9" y2="898.1" stroke="#b0b0b0" stroke-width="1"/>
<line x1="206.1" x2="206.1" y1="895.9" y2="898.1" stroke="#b0b0b0" stroke-width="1"/>
<line x1="216.7" x2="216.7" y1="895.9" y2="898.1" stroke="#b0b0b0" stroke-width="1"/>
<line x1="227.3" x2="227.3" y1="895.9" y2="898.1" stroke="#b0b0b0" stroke-width="1"/>
<line x1="237.8" x2="237.8" y1="895.9" y2="898.1" stroke="#b0b0b0" stroke-width="1"/>
<line x1="248.4" x2="248.4" y1="895.9" y2="898.1" stroke="#b0b0b0" stroke-width="1"/>
<line x1="259.0" x2="259.0" y1="895.9" y2="898.1" stroke="#b0b0b0" stroke-width="1"/>
<line x1="269.6" x2="269.6" y1="895.9" y2="898.1" stroke="#b0b0b0" stroke-width="1"/>
<line x1="280.2" x2="280.2" y1="895.9" y2="898.1" stroke="#b0b0b0" stroke-width="1"/>
<line x1="290.8" x2="290.8" y1="895.9" y2="898.1" stroke="#b0b0b0" stroke-width="1"/>
<line x1="301.3" x2="301.3" y1="895.9" y2="898.1" stroke="#b0b0b0" stroke-width="1"/>
<line x1="311.9" x2="311.9" y1="895.9" y2="898.1" stroke="#b0b0b0" stroke-width="1"/>
<line x1="322.5" x2="322.5" y1="895.9" y2="898.1" stroke="#b0b0b0" stroke-width="1"/>
<line x1="333.1" x2="333.1" y1="895.9" y2="898.1" stroke="#b0b0b0" stroke-width="1"/>
<line x1="343.7" x2="343.7" y1="895.9" y2="898.1" stroke="#b0b0b0" stroke-width="1"/>
<line x1="354.2" x2="354.2" y1="895.9" y2="898.1" stroke="#b0b0b0" stroke-width="1"/>
<line x1="364.8" x2="364.8" y1="895.9" y2="898.1" stroke="#b0b0b0" stroke-width="1"/>
<line x1="375.4" x2="375.4" y1="895.9" y2="898.1" stroke="#b0b0b0" stroke-width="1"/>
<line x1="386.0" x2="386.0" y1="895.9" y2="898.1" stroke="#b0b0b0" stroke-width="1"/>
<line x1="396.6" x2="396.6" y1="895.9" y2="898.1" stroke="#b0b0b0" stroke-width="1"/>
<line x1="407.2" x2="407.2" y1="895.9" y2="898.1" stroke="#b0b0b0" stroke-width="1"/>
<line x1="417.7" x2="417.7" y1="895.9" y2="898.1" stroke="#b0b0b0" stroke-width="1"/>
<line x1="428.3" x2="428.3" y1="895.9" y2="898.1" stroke="#b0b0b0" stroke-width="1"/>
<line x1="438.9" x2="438.9" y1="895.9" y2="898.1" stroke="#b0b0b0" stroke-width="1"/>
<line x1="449.5" x2="449.5" y1="895.9" y2="898.1" stroke="#b0b0b0" stroke-width="1"/>
<line x1="460.1" x2="460.1" y1="895.9" y2="898.1" stroke="#b0b0b0" stroke-width="1"/>
<line x1="470.6" x2="470.6" y1="895.9" y2="898.1" stroke="#b0b0b0" stroke-width="1"/>
<line x1="481.2" x2="481.2" y1="895.9" y2="898.1" stroke="#b0b0b0" stroke-width="1"/>
<line x1="491.8" x2="491.8" y1="895.9" y2="898.1" stroke="#b0b0b0" stroke-width="1"/>
<line x1="502.4" x2="502.4" y1="895.9" y2="898.1" stroke="#b0b0b0" stroke-width="1"/>
<line x1="513.0" x2="513.0" y1="895.9" y2="898.1" stroke="#b0b0b0" stroke-width="1"/>
<line x1="523.6" x2="523.6" y1="895.9" y2="898.1" stroke="#b0b0b0" stroke-width="1"/>
<line x1="534.1" x2="534.1" y1="895.9" y2="898.1" stroke="#b0b0b0" stroke-width="1"/>
<line x1="544.7" x2="544.7" y1="895.9" y2="898.1" stroke="#b0b0b0" stroke-width="1"/>
<line x1="555.3" x2="555.3" y1="895.9" y2="898.1" stroke="#b0b0b0" stroke-width="1"/>
<line x1="565.9" x2="565.9" y1="895.9" y2="898.1" stroke="#b0b0b0" stroke-width="1"/>
<line x1="576.5" x2="576.5" y1="895.9" y2="898.1" stroke="#b0b0b0" stroke-width="1"/>
<line x1="587.0" x2="587.0" y1="895.9" y2="898.1" stroke="#b0b0b0" stroke-width="1"/>
<line x1="597.6" x2="597.6" y1="895.9" y2="898.1" stroke="#b0b0b0" stroke-width="1"/>
<line x1="608.2" x2="608.2" y1="895.9" y2="898.1" stroke="#b0b0b0" stroke-width="1"/>
<line x1="618.8" x2="618.8" y1="895.9" y2="898.1" stroke="#b0b0b0" stroke-width="1"/>
<line x1="629.4" x2="629.4" y1="895.9" y2="898.1" stroke="#b0b0b0" stroke-width="1"/>
<line x1="640.0" x2="640.0" y1="895.9" y2="898.1" stroke="#b0b0b0" stroke-width="1"/>
<line x1="650.5" x2="650.5" y1="895.9" y2="898.1" stroke="#b0b0b0" stroke-width="1"/>
<line x1="661.1" x2="661.1" y1="895.9" y2="898.1" stroke="#b0b0b0" stroke-width="1"/>
<line x1="671.7" x2="671.7" y1="895.9" y2="898.1" stroke="#b0b0b0" stroke-width="1"/>
<line x1="682.3" x2="682.3" y1="895.9" y2="898.1" stroke="#b0b0b0" stroke-width="1"/>
<line x1="692.9" x2="692.9" y1="895.9" y2="898.1" stroke="#b0b0b0" stroke-width="1"/>
<line x1="703.4" x2="703.4" y1="895.9" y2="898.1" stroke="#b0b0b0" stroke-width="1"/>
<line x1="714.0" x2="714.0" y1="895.9" y2="898.1" stroke="#b0b0b0" stroke-width="1"/>
<line x1="724.6" x2="724.6" y1="895.9" y2="898.1" stroke="#b0b0b0" stroke-width="1"/>
<line x1="735.2" x2="735.2" y1="895.9" y2="898.1" stroke="#b0b0b0" stroke-width="1"/>
<line x1="745.8" x2="745.8" y1="895.9" y2="898.1" stroke="#b0b0b0" stroke-width="1"/>
<line x1="756.4" x2="756.4" y1="895.9" y2="898.1" stroke="#b0b0b0" stroke-width="1"/>
<line x1="766.9" x2="766.9" y1="895.9" y2="898.1" stroke="#b0b0b0" stroke-width="1"/>
<line x1="777.5" x2="777.5" y1="895.9" y2="898.1" stroke="#b0b0b0" stroke-width="1"/>
<line x1="788.1" x2="788.1" y1="895.9" y2="898.1" stroke="#b0b0b0" stroke-width="1"/>
<line x1="798.7" x2="798.7" y1="895.9" y2="898.1" stroke="#b0b0b0" stroke-width="1"/>
<line x1="809.3" x2="809.3" y1="895.9" y2="898.1" stroke="#b0b0b0" stroke-width="1"/>
<line x1="819.9" x2="819.9" y1="895.9" y2="898.1" stroke="#b0b0b0" stroke-width="1"/>
<line x1="830.4" x2="830.4" y1="895.9" y2="898.1" stroke="#b0b0b0" stroke-width="1"/>
<line x1="841.0" x2="841.0" y1="895.9" y2="898.1" stroke="#b0b0b0" stroke-width="1"/>
<line x1="851.6" x2="851.6" y1="895.9" y2="898.1" stroke="#b0b0b0" stroke-width="1"/>
<line x1="862.2" x2="862.2" y1="895.9" y2="898.1" stroke="#b0b0b0" stroke-width="1"/>
<line x1="872.8" x2="872.8" y1="895.9" y2="898.1" stroke="#b0b0b0" stroke-width="1"/>
<line x1="883.3" x2="883.3" y1="895.9" y2="898.1" stroke="#b0b0b0" stroke-width="1"/>
<line x1="893.9" x2="893.9" y1="895.9" y2="898.1" stroke="#b0b0b0" stroke-width="1"/>
<line x1="904.5" x2="904.5" y1="895.9" y2="898.1" stroke="#b0b0b0" stroke-width="1"/>
<line x1="915.1" x2="915.1" y1="895.9" y2="898.1" stroke="#b0b0b0" stroke-width="1"/>
<line x1="925.7" x2="925.7" y1="895.9" y2="898.1" stroke="#b0b0b0" stroke-width="1"/>
<line x1="936.3" x2="936.3" y1="895.9" y2="898.1" stroke="#b0b0b0" stroke-width="1"/>
<line x1="946.8" x2="946.8" y1="895.9" y2="898.1" stroke="#b0b0b0" stroke-width="1"/>
<text transform="translate(67.8,460.8) scale(1.05,1)" font-size="12.4" text-anchor="middle" fill="#000" >22</text>
<text transform="translate(120.7,460.8) scale(1.05,1)" font-size="12.4" text-anchor="middle" fill="#000" >29</text>
<text transform="translate(152.5,460.8) scale(1.14,1)" font-size="13.0" text-anchor="middle" font-weight="bold" fill="#000" >Aug</text>
<text transform="translate(173.6,460.8) scale(1.05,1)" font-size="12.4" text-anchor="middle" fill="#000" >5</text>
<text transform="translate(226.6,460.8) scale(1.05,1)" font-size="12.4" text-anchor="middle" fill="#000" >12</text>
<text transform="translate(279.5,460.8) scale(1.05,1)" font-size="12.4" text-anchor="middle" fill="#000" >19</text>
<text transform="translate(332.4,460.8) scale(1.05,1)" font-size="12.4" text-anchor="middle" fill="#000" >26</text>
<text transform="translate(385.3,460.8) scale(1.14,1)" font-size="13.0" text-anchor="middle" font-weight="bold" fill="#000" >Sep</text>
<text transform="translate(427.6,460.8) scale(1.05,1)" font-size="12.4" text-anchor="middle" fill="#000" >9</text>
<text transform="translate(480.5,460.8) scale(1.05,1)" font-size="12.4" text-anchor="middle" fill="#000" >16</text>
<text transform="translate(533.4,460.8) scale(1.05,1)" font-size="12.4" text-anchor="middle" fill="#000" >23</text>
<text transform="translate(596.9,460.8) scale(1.14,1)" font-size="13.0" text-anchor="middle" font-weight="bold" fill="#000" >Oct</text>
<text transform="translate(639.3,460.8) scale(1.05,1)" font-size="12.4" text-anchor="middle" fill="#000" >7</text>
<text transform="translate(692.2,460.8) scale(1.05,1)" font-size="12.4" text-anchor="middle" fill="#000" >14</text>
<text transform="translate(745.1,460.8) scale(1.05,1)" font-size="12.4" text-anchor="middle" fill="#000" >21</text>
<text transform="translate(798.0,460.8) scale(1.05,1)" font-size="12.4" text-anchor="middle" fill="#000" >28</text>
<text transform="translate(840.3,460.8) scale(1.14,1)" font-size="13.0" text-anchor="middle" font-weight="bold" fill="#000" >Nov</text>
<text transform="translate(903.8,460.8) scale(1.05,1)" font-size="12.4" text-anchor="middle" fill="#000" >11</text>
<text transform="translate(67.8,908.7) scale(1.05,1)" font-size="12.4" text-anchor="middle" fill="#000" >22</text>
<text transform="translate(120.7,908.7) scale(1.05,1)" font-size="12.4" text-anchor="middle" fill="#000" >29</text>
<text transform="translate(152.5,908.7) scale(1.14,1)" font-size="13.0" text-anchor="middle" font-weight="bold" fill="#000" >Aug</text>
<text transform="translate(173.6,908.7) scale(1.05,1)" font-size="12.4" text-anchor="middle" fill="#000" >5</text>
<text transform="translate(226.6,908.7) scale(1.05,1)" font-size="12.4" text-anchor="middle" fill="#000" >12</text>
<text transform="translate(279.5,908.7) scale(1.05,1)" font-size="12.4" text-anchor="middle" fill="#000" >19</text>
<text transform="translate(332.4,908.7) scale(1.05,1)" font-size="12.4" text-anchor="middle" fill="#000" >26</text>
<text transform="translate(385.3,908.7) scale(1.14,1)" font-size="13.0" text-anchor="middle" font-weight="bold" fill="#000" >Sep</text>
<text transform="translate(427.6,908.7) scale(1.05,1)" font-size="12.4" text-anchor="middle" fill="#000" >9</text>
<text transform="translate(480.5,908.7) scale(1.05,1)" font-size="12.4" text-anchor="middle" fill="#000" >16</text>
<text transform="translate(533.4,908.7) scale(1.05,1)" font-size="12.4" text-anchor="middle" fill="#000" >23</text>
<text transform="translate(596.9,908.7) scale(1.14,1)" font-size="13.0" text-anchor="middle" font-weight="bold" fill="#000" >Oct</text>
<text transform="translate(639.3,908.7) scale(1.05,1)" font-size="12.4" text-anchor="middle" fill="#000" >7</text>
<text transform="translate(692.2,908.7) scale(1.05,1)" font-size="12.4" text-anchor="middle" fill="#000" >14</text>
<text transform="translate(745.1,908.7) scale(1.05,1)" font-size="12.4" text-anchor="middle" fill="#000" >21</text>
<text transform="translate(798.0,908.7) scale(1.05,1)" font-size="12.4" text-anchor="middle" fill="#000" >28</text>
<text transform="translate(840.3,908.7) scale(1.14,1)" font-size="13.0" text-anchor="middle" font-weight="bold" fill="#000" >Nov</text>
<text transform="translate(903.8,908.7) scale(1.05,1)" font-size="12.4" text-anchor="middle" fill="#000" >11</text>
<line x1="21.5" x2="957.0" y1="600.5" y2="600.5" stroke="#e3e3e3" stroke-width="1.1"/>
<line x1="21.5" x2="957.0" y1="587.9" y2="587.9" stroke="#e3e3e3" stroke-width="1.1"/>
<line x1="21.5" x2="957.0" y1="575.3" y2="575.3" stroke="#e3e3e3" stroke-width="1.1"/>
<line x1="21.5" x2="957.0" y1="550.1" y2="550.1" stroke="#e3e3e3" stroke-width="1.1"/>
<line x1="21.5" x2="957.0" y1="524.9" y2="524.9" stroke="#e3e3e3" stroke-width="1.1"/>
<line x1="21.5" x2="957.0" y1="499.7" y2="499.7" stroke="#e3e3e3" stroke-width="1.1"/>
<line x1="21.5" x2="957.0" y1="487.1" y2="487.1" stroke="#e3e3e3" stroke-width="1.1"/>
<line x1="21.5" x2="957.0" y1="474.6" y2="474.6" stroke="#e3e3e3" stroke-width="1.1"/>
<line x1="68.5" x2="68.5" y1="465.0" y2="609.0" stroke="#d9d9d9" stroke-width="1.1"/>
<line x1="121.4" x2="121.4" y1="465.0" y2="609.0" stroke="#d9d9d9" stroke-width="1.1"/>
<line x1="174.3" x2="174.3" y1="465.0" y2="609.0" stroke="#d9d9d9" stroke-width="1.1"/>
<line x1="227.3" x2="227.3" y1="465.0" y2="609.0" stroke="#d9d9d9" stroke-width="1.1"/>
<line x1="280.2" x2="280.2" y1="465.0" y2="609.0" stroke="#d9d9d9" stroke-width="1.1"/>
<line x1="333.1" x2="333.1" y1="465.0" y2="609.0" stroke="#d9d9d9" stroke-width="1.1"/>
<line x1="428.3" x2="428.3" y1="465.0" y2="609.0" stroke="#d9d9d9" stroke-width="1.1"/>
<line x1="481.2" x2="481.2" y1="465.0" y2="609.0" stroke="#d9d9d9" stroke-width="1.1"/>
<line x1="534.1" x2="534.1" y1="465.0" y2="609.0" stroke="#d9d9d9" stroke-width="1.1"/>
<line x1="587.0" x2="587.0" y1="465.0" y2="609.0" stroke="#d9d9d9" stroke-width="1.1"/>
<line x1="640.0" x2="640.0" y1="465.0" y2="609.0" stroke="#d9d9d9" stroke-width="1.1"/>
<line x1="692.9" x2="692.9" y1="465.0" y2="609.0" stroke="#d9d9d9" stroke-width="1.1"/>
<line x1="745.8" x2="745.8" y1="465.0" y2="609.0" stroke="#d9d9d9" stroke-width="1.1"/>
<line x1="798.7" x2="798.7" y1="465.0" y2="609.0" stroke="#d9d9d9" stroke-width="1.1"/>
<line x1="851.6" x2="851.6" y1="465.0" y2="609.0" stroke="#d9d9d9" stroke-width="1.1"/>
<line x1="904.5" x2="904.5" y1="465.0" y2="609.0" stroke="#d9d9d9" stroke-width="1.1"/>
<line x1="153.2" x2="153.2" y1="465.0" y2="609.0" stroke="#bababa" stroke-width="1.2"/>
<line x1="386.0" x2="386.0" y1="465.0" y2="609.0" stroke="#bababa" stroke-width="1.2"/>
<line x1="597.6" x2="597.6" y1="465.0" y2="609.0" stroke="#bababa" stroke-width="1.2"/>
<line x1="841.0" x2="841.0" y1="465.0" y2="609.0" stroke="#bababa" stroke-width="1.2"/>
<rect x="23" y="467" width="122" height="14" fill="#fff"/>
<clipPath id="c70"><rect x="21.5" y="465.0" width="935.5" height="47.9"/></clipPath>
<polygon points="21.5,517.9 21.5,532.0 25.8,531.1 36.4,518.4 47.0,509.0 57.5,505.2 68.1,524.7 78.7,527.2 89.3,510.5 99.9,509.2 110.5,525.9 121.0,524.7 131.6,519.7 142.2,528.1 152.8,519.7 163.4,506.0 173.9,491.0 184.5,520.4 195.1,520.9 205.7,529.1 216.3,534.6 226.9,535.1 237.4,540.3 248.0,542.8 258.6,543.9 269.2,545.3 279.8,545.3 290.4,542.8 300.9,541.3 311.5,538.9 322.1,542.8 332.7,541.3 343.3,542.8 353.8,538.9 364.4,542.1 375.0,544.1 385.6,529.6 396.2,528.4 406.8,532.6 417.3,525.9 427.9,534.6 438.5,535.1 449.1,538.9 459.7,540.8 470.2,542.8 480.8,540.8 491.4,539.1 502.0,536.1 512.6,542.6 523.2,542.8 533.7,544.1 544.3,545.3 554.9,545.3 565.5,545.3 576.1,538.9 586.6,538.9 597.2,528.4 607.8,530.9 618.4,524.7 629.0,530.9 639.6,520.4 650.1,525.4 660.7,528.1 671.3,528.4 681.9,530.1 692.5,533.9 703.0,529.6 713.6,534.6 724.2,537.9 734.8,541.6 745.4,540.0 756.0,541.8 766.5,536.5 777.1,535.9 787.7,531.1 798.3,533.8 808.9,536.5 819.5,531.1 830.0,519.6 840.6,527.1 851.2,525.7 861.8,535.1 872.4,550.4 882.9,554.4 893.5,554.4 904.1,554.4 914.7,555.8 925.3,557.1 935.9,555.8 946.4,545.8 957.0,517.9" fill="#6f9c6f" clip-path="url(#c70)"/>
<line x1="21.5" x2="957.0" y1="512.9" y2="512.9" stroke="#777" stroke-width="1.25"/>
<line x1="21.5" x2="957.0" y1="562.3" y2="562.3" stroke="#777" stroke-width="1.25"/>
<line x1="21.5" x2="957.0" y1="537.5" y2="537.5" stroke="#888" stroke-width="1.3" stroke-dasharray="10,3,2.5,3"/>
<polyline points="21.5,532.0 25.8,531.1 36.4,518.4 47.0,509.0 57.5,505.2 68.1,524.7 78.7,527.2 89.3,510.5 99.9,509.2 110.5,525.9 121.0,524.7 131.6,519.7 142.2,528.1 152.8,519.7 163.4,506.0 173.9,491.0 184.5,520.4 195.1,520.9 205.7,529.1 216.3,534.6 226.9,535.1 237.4,540.3 248.0,542.8 258.6,543.9 269.2,545.3 279.8,545.3 290.4,542.8 300.9,541.3 311.5,538.9 322.1,542.8 332.7,541.3 343.3,542.8 353.8,538.9 364.4,542.1 375.0,544.1 385.6,529.6 396.2,528.4 406.8,532.6 417.3,525.9 427.9,534.6 438.5,535.1 449.1,538.9 459.7,540.8 470.2,542.8 480.8,540.8 491.4,539.1 502.0,536.1 512.6,542.6 523.2,542.8 533.7,544.1 544.3,545.3 554.9,545.3 565.5,545.3 576.1,538.9 586.6,538.9 597.2,528.4 607.8,530.9 618.4,524.7 629.0,530.9 639.6,520.4 650.1,525.4 660.7,528.1 671.3,528.4 681.9,530.1 692.5,533.9 703.0,529.6 713.6,534.6 724.2,537.9 734.8,541.6 745.4,540.0 756.0,541.8 766.5,536.5 777.1,535.9 787.7,531.1 798.3,533.8 808.9,536.5 819.5,531.1 830.0,519.6 840.6,527.1 851.2,525.7 861.8,535.1 872.4,550.4 882.9,554.4 893.5,554.4 904.1,554.4 914.7,555.8 925.3,557.1 935.9,555.8 946.4,545.8" fill="none" stroke="#333" stroke-width="1.5" stroke-linejoin="round"/>
<rect x="21.5" y="465.0" width="935.5" height="144.0" fill="none" stroke="#a6a6a6" stroke-width="1.05"/>
<line x1="957.0" x2="959.4" y1="587.9" y2="587.9" stroke="#b4b4b4" stroke-width="1"/>
<line x1="957.0" x2="959.4" y1="562.7" y2="562.7" stroke="#b4b4b4" stroke-width="1"/>
<line x1="957.0" x2="959.4" y1="537.5" y2="537.5" stroke="#b4b4b4" stroke-width="1"/>
<line x1="957.0" x2="959.4" y1="512.3" y2="512.3" stroke="#b4b4b4" stroke-width="1"/>
<line x1="957.0" x2="959.4" y1="487.1" y2="487.1" stroke="#b4b4b4" stroke-width="1"/>
<line x1="957.0" x2="958.6" y1="600.5" y2="600.5" stroke="#bcbcbc" stroke-width="1"/>
<line x1="957.0" x2="958.6" y1="594.2" y2="594.2" stroke="#bcbcbc" stroke-width="1"/>
<line x1="957.0" x2="958.6" y1="581.6" y2="581.6" stroke="#bcbcbc" stroke-width="1"/>
<line x1="957.0" x2="958.6" y1="575.3" y2="575.3" stroke="#bcbcbc" stroke-width="1"/>
<line x1="957.0" x2="958.6" y1="569.0" y2="569.0" stroke="#bcbcbc" stroke-width="1"/>
<line x1="957.0" x2="958.6" y1="556.4" y2="556.4" stroke="#bcbcbc" stroke-width="1"/>
<line x1="957.0" x2="958.6" y1="550.1" y2="550.1" stroke="#bcbcbc" stroke-width="1"/>
<line x1="957.0" x2="958.6" y1="543.8" y2="543.8" stroke="#bcbcbc" stroke-width="1"/>
<line x1="957.0" x2="958.6" y1="531.2" y2="531.2" stroke="#bcbcbc" stroke-width="1"/>
<line x1="957.0" x2="958.6" y1="524.9" y2="524.9" stroke="#bcbcbc" stroke-width="1"/>
<line x1="957.0" x2="958.6" y1="518.6" y2="518.6" stroke="#bcbcbc" stroke-width="1"/>
<line x1="957.0" x2="958.6" y1="506.0" y2="506.0" stroke="#bcbcbc" stroke-width="1"/>
<line x1="957.0" x2="958.6" y1="499.7" y2="499.7" stroke="#bcbcbc" stroke-width="1"/>
<line x1="957.0" x2="958.6" y1="493.4" y2="493.4" stroke="#bcbcbc" stroke-width="1"/>
<line x1="957.0" x2="958.6" y1="480.8" y2="480.8" stroke="#bcbcbc" stroke-width="1"/>
<line x1="957.0" x2="958.6" y1="474.6" y2="474.6" stroke="#bcbcbc" stroke-width="1"/>
<text transform="translate(961.2,490.7) scale(1.08,1)" font-size="12.5" text-anchor="start" fill="#000" >90</text>
<text transform="translate(961.2,515.9) scale(1.08,1)" font-size="12.5" text-anchor="start" fill="#000" >70</text>
<text transform="translate(961.2,541.1) scale(1.08,1)" font-size="12.5" text-anchor="start" fill="#000" >50</text>
<text transform="translate(961.2,566.3) scale(1.08,1)" font-size="12.5" text-anchor="start" fill="#000" >30</text>
<text transform="translate(961.2,591.5) scale(1.08,1)" font-size="12.5" text-anchor="start" fill="#000" >10</text>
<polygon points="954.2,544.1 959.7,537.7 997.4,537.7 997.4,550.5 959.7,550.5" fill="#fff" stroke="#222" stroke-width="1.3" stroke-linejoin="miter"/>
<text transform="translate(960.4,548.4) scale(1.08,1)" font-size="12.5" text-anchor="start" fill="#000" >43.99</text>
<path d="M24.9,478 L27.7,472.7 L30.1,467.8 L32.2,474 L35.2,469.8 L35.6,478 Z" fill="#6f9c6f"/>
<path d="M24.9,478 L27.7,472.7 L30.1,467.8 L32.2,474 L35.2,469.8 L35.6,478" fill="none" stroke="#111" stroke-width="1.5" stroke-linejoin="miter"/>
<text transform="translate(40.6,478.2) scale(1.24,1)" font-size="12.4" text-anchor="start" letter-spacing="0.55" fill="#000" stroke="#000" stroke-width="0.25">RSI(14) 43.99</text>
<line x1="21.5" x2="957.0" y1="625.7" y2="625.7" stroke="#e3e3e3" stroke-width="1.1"/>
<line x1="21.5" x2="957.0" y1="646.6" y2="646.6" stroke="#e3e3e3" stroke-width="1.1"/>
<line x1="21.5" x2="957.0" y1="667.5" y2="667.5" stroke="#e3e3e3" stroke-width="1.1"/>
<line x1="21.5" x2="957.0" y1="688.4" y2="688.4" stroke="#e3e3e3" stroke-width="1.1"/>
<line x1="21.5" x2="957.0" y1="709.3" y2="709.3" stroke="#e3e3e3" stroke-width="1.1"/>
<line x1="21.5" x2="957.0" y1="730.2" y2="730.2" stroke="#e3e3e3" stroke-width="1.1"/>
<line x1="68.5" x2="68.5" y1="609.0" y2="752.5" stroke="#d9d9d9" stroke-width="1.1"/>
<line x1="121.4" x2="121.4" y1="609.0" y2="752.5" stroke="#d9d9d9" stroke-width="1.1"/>
<line x1="174.3" x2="174.3" y1="609.0" y2="752.5" stroke="#d9d9d9" stroke-width="1.1"/>
<line x1="227.3" x2="227.3" y1="609.0" y2="752.5" stroke="#d9d9d9" stroke-width="1.1"/>
<line x1="280.2" x2="280.2" y1="609.0" y2="752.5" stroke="#d9d9d9" stroke-width="1.1"/>
<line x1="333.1" x2="333.1" y1="609.0" y2="752.5" stroke="#d9d9d9" stroke-width="1.1"/>
<line x1="428.3" x2="428.3" y1="609.0" y2="752.5" stroke="#d9d9d9" stroke-width="1.1"/>
<line x1="481.2" x2="481.2" y1="609.0" y2="752.5" stroke="#d9d9d9" stroke-width="1.1"/>
<line x1="534.1" x2="534.1" y1="609.0" y2="752.5" stroke="#d9d9d9" stroke-width="1.1"/>
<line x1="587.0" x2="587.0" y1="609.0" y2="752.5" stroke="#d9d9d9" stroke-width="1.1"/>
<line x1="640.0" x2="640.0" y1="609.0" y2="752.5" stroke="#d9d9d9" stroke-width="1.1"/>
<line x1="692.9" x2="692.9" y1="609.0" y2="752.5" stroke="#d9d9d9" stroke-width="1.1"/>
<line x1="745.8" x2="745.8" y1="609.0" y2="752.5" stroke="#d9d9d9" stroke-width="1.1"/>
<line x1="798.7" x2="798.7" y1="609.0" y2="752.5" stroke="#d9d9d9" stroke-width="1.1"/>
<line x1="851.6" x2="851.6" y1="609.0" y2="752.5" stroke="#d9d9d9" stroke-width="1.1"/>
<line x1="904.5" x2="904.5" y1="609.0" y2="752.5" stroke="#d9d9d9" stroke-width="1.1"/>
<line x1="153.2" x2="153.2" y1="609.0" y2="752.5" stroke="#bababa" stroke-width="1.2"/>
<line x1="386.0" x2="386.0" y1="609.0" y2="752.5" stroke="#bababa" stroke-width="1.2"/>
<line x1="597.6" x2="597.6" y1="609.0" y2="752.5" stroke="#bababa" stroke-width="1.2"/>
<line x1="841.0" x2="841.0" y1="609.0" y2="752.5" stroke="#bababa" stroke-width="1.2"/>
<rect x="23" y="611" width="214" height="14" fill="#fff"/>
<clipPath id="cm"><rect x="22.2" y="625" width="935.5" height="127.5"/></clipPath>
<g clip-path="url(#cm)">
<rect x="22.0" y="685.2" width="7.6" height="3.2" fill="#55a8d4" stroke="#2878a8" stroke-width="1.1"/>
<rect x="32.6" y="681.4" width="7.6" height="7.0" fill="#55a8d4" stroke="#2878a8" stroke-width="1.1"/>
<rect x="43.2" y="674.7" width="7.6" height="13.7" fill="#55a8d4" stroke="#2878a8" stroke-width="1.1"/>
<rect x="53.7" y="671.0" width="7.6" height="17.4" fill="#55a8d4" stroke="#2878a8" stroke-width="1.1"/>
<rect x="64.3" y="673.5" width="7.6" height="14.9" fill="#55a8d4" stroke="#2878a8" stroke-width="1.1"/>
<rect x="74.9" y="675.9" width="7.6" height="12.5" fill="#55a8d4" stroke="#2878a8" stroke-width="1.1"/>
<rect x="85.5" y="671.0" width="7.6" height="17.4" fill="#55a8d4" stroke="#2878a8" stroke-width="1.1"/>
<rect x="96.1" y="666.7" width="7.6" height="21.7" fill="#55a8d4" stroke="#2878a8" stroke-width="1.1"/>
<rect x="106.7" y="671.0" width="7.6" height="17.4" fill="#55a8d4" stroke="#2878a8" stroke-width="1.1"/>
<rect x="117.2" y="674.7" width="7.6" height="13.7" fill="#55a8d4" stroke="#2878a8" stroke-width="1.1"/>
<rect x="127.8" y="674.7" width="7.6" height="13.7" fill="#55a8d4" stroke="#2878a8" stroke-width="1.1"/>
<rect x="138.4" y="679.7" width="7.6" height="8.7" fill="#55a8d4" stroke="#2878a8" stroke-width="1.1"/>
<rect x="149.0" y="677.2" width="7.6" height="11.2" fill="#55a8d4" stroke="#2878a8" stroke-width="1.1"/>
<rect x="159.6" y="664.2" width="7.6" height="24.2" fill="#55a8d4" stroke="#2878a8" stroke-width="1.1"/>
<rect x="170.1" y="600.0" width="7.6" height="88.4" fill="#55a8d4" stroke="#2878a8" stroke-width="1.1"/>
<rect x="180.7" y="600.0" width="7.6" height="88.4" fill="#55a8d4" stroke="#2878a8" stroke-width="1.1"/>
<rect x="191.3" y="628.1" width="7.6" height="60.3" fill="#55a8d4" stroke="#2878a8" stroke-width="1.1"/>
<rect x="201.9" y="647.3" width="7.6" height="41.1" fill="#55a8d4" stroke="#2878a8" stroke-width="1.1"/>
<rect x="212.5" y="671.0" width="7.6" height="17.4" fill="#55a8d4" stroke="#2878a8" stroke-width="1.1"/>
<rect x="223.1" y="687.2" width="7.6" height="1.2" fill="#55a8d4" stroke="#2878a8" stroke-width="1.1"/>
<rect x="233.6" y="688.4" width="7.6" height="17.4" fill="#55a8d4" stroke="#2878a8" stroke-width="1.1"/>
<rect x="244.2" y="688.4" width="7.6" height="32.9" fill="#55a8d4" stroke="#2878a8" stroke-width="1.1"/>
<rect x="254.8" y="688.4" width="7.6" height="46.1" fill="#55a8d4" stroke="#2878a8" stroke-width="1.1"/>
<rect x="265.4" y="688.4" width="7.6" height="52.8" fill="#55a8d4" stroke="#2878a8" stroke-width="1.1"/>
<rect x="276.0" y="688.4" width="7.6" height="55.3" fill="#55a8d4" stroke="#2878a8" stroke-width="1.1"/>
<rect x="286.6" y="688.4" width="7.6" height="52.8" fill="#55a8d4" stroke="#2878a8" stroke-width="1.1"/>
<rect x="297.1" y="688.4" width="7.6" height="46.1" fill="#55a8d4" stroke="#2878a8" stroke-width="1.1"/>
<rect x="307.7" y="688.4" width="7.6" height="36.8" fill="#55a8d4" stroke="#2878a8" stroke-width="1.1"/>
<rect x="318.3" y="688.4" width="7.6" height="34.4" fill="#55a8d4" stroke="#2878a8" stroke-width="1.1"/>
<rect x="328.9" y="688.4" width="7.6" height="30.6" fill="#55a8d4" stroke="#2878a8" stroke-width="1.1"/>
<rect x="339.5" y="688.4" width="7.6" height="29.1" fill="#55a8d4" stroke="#2878a8" stroke-width="1.1"/>
<rect x="350.0" y="688.4" width="7.6" height="21.2" fill="#55a8d4" stroke="#2878a8" stroke-width="1.1"/>
<rect x="360.6" y="688.4" width="7.6" height="20.4" fill="#55a8d4" stroke="#2878a8" stroke-width="1.1"/>
<rect x="371.2" y="688.4" width="7.6" height="19.2" fill="#55a8d4" stroke="#2878a8" stroke-width="1.1"/>
<rect x="381.8" y="688.4" width="7.6" height="3.2" fill="#55a8d4" stroke="#2878a8" stroke-width="1.1"/>
<rect x="392.4" y="680.2" width="7.6" height="8.2" fill="#55a8d4" stroke="#2878a8" stroke-width="1.1"/>
<rect x="403.0" y="675.9" width="7.6" height="12.5" fill="#55a8d4" stroke="#2878a8" stroke-width="1.1"/>
<rect x="413.5" y="668.0" width="7.6" height="20.4" fill="#55a8d4" stroke="#2878a8" stroke-width="1.1"/>
<rect x="424.1" y="672.2" width="7.6" height="16.2" fill="#55a8d4" stroke="#2878a8" stroke-width="1.1"/>
<rect x="434.7" y="675.9" width="7.6" height="12.5" fill="#55a8d4" stroke="#2878a8" stroke-width="1.1"/>
<rect x="445.3" y="683.9" width="7.6" height="4.5" fill="#55a8d4" stroke="#2878a8" stroke-width="1.1"/>
<rect x="455.9" y="688.4" width="7.6" height="1.7" fill="#55a8d4" stroke="#2878a8" stroke-width="1.1"/>
<rect x="466.4" y="688.4" width="7.6" height="7.5" fill="#55a8d4" stroke="#2878a8" stroke-width="1.1"/>
<rect x="477.0" y="688.4" width="7.6" height="8.7" fill="#55a8d4" stroke="#2878a8" stroke-width="1.1"/>
<rect x="487.6" y="688.4" width="7.6" height="8.7" fill="#55a8d4" stroke="#2878a8" stroke-width="1.1"/>
<rect x="498.2" y="688.4" width="7.6" height="5.7" fill="#55a8d4" stroke="#2878a8" stroke-width="1.1"/>
<rect x="508.8" y="688.4" width="7.6" height="9.5" fill="#55a8d4" stroke="#2878a8" stroke-width="1.1"/>
<rect x="519.4" y="688.4" width="7.6" height="12.4" fill="#55a8d4" stroke="#2878a8" stroke-width="1.1"/>
<rect x="529.9" y="688.4" width="7.6" height="13.7" fill="#55a8d4" stroke="#2878a8" stroke-width="1.1"/>
<rect x="540.5" y="688.4" width="7.6" height="14.9" fill="#55a8d4" stroke="#2878a8" stroke-width="1.1"/>
<rect x="551.1" y="688.4" width="7.6" height="14.9" fill="#55a8d4" stroke="#2878a8" stroke-width="1.1"/>
<rect x="561.7" y="688.4" width="7.6" height="14.4" fill="#55a8d4" stroke="#2878a8" stroke-width="1.1"/>
<rect x="572.3" y="688.4" width="7.6" height="8.2" fill="#55a8d4" stroke="#2878a8" stroke-width="1.1"/>
<rect x="582.8" y="688.4" width="7.6" height="5.7" fill="#55a8d4" stroke="#2878a8" stroke-width="1.1"/>
<rect x="593.4" y="685.4" width="7.6" height="3.0" fill="#55a8d4" stroke="#2878a8" stroke-width="1.1"/>
<rect x="604.0" y="680.2" width="7.6" height="8.2" fill="#55a8d4" stroke="#2878a8" stroke-width="1.1"/>
<rect x="614.6" y="673.5" width="7.6" height="14.9" fill="#55a8d4" stroke="#2878a8" stroke-width="1.1"/>
<rect x="625.2" y="673.5" width="7.6" height="14.9" fill="#55a8d4" stroke="#2878a8" stroke-width="1.1"/>
<rect x="635.8" y="664.2" width="7.6" height="24.2" fill="#55a8d4" stroke="#2878a8" stroke-width="1.1"/>
<rect x="646.3" y="664.2" width="7.6" height="24.2" fill="#55a8d4" stroke="#2878a8" stroke-width="1.1"/>
<rect x="656.9" y="666.7" width="7.6" height="21.7" fill="#55a8d4" stroke="#2878a8" stroke-width="1.1"/>
<rect x="667.5" y="669.7" width="7.6" height="18.7" fill="#55a8d4" stroke="#2878a8" stroke-width="1.1"/>
<rect x="678.1" y="673.5" width="7.6" height="14.9" fill="#55a8d4" stroke="#2878a8" stroke-width="1.1"/>
<rect x="688.7" y="678.9" width="7.6" height="9.5" fill="#55a8d4" stroke="#2878a8" stroke-width="1.1"/>
<rect x="699.2" y="681.4" width="7.6" height="7.0" fill="#55a8d4" stroke="#2878a8" stroke-width="1.1"/>
<rect x="709.8" y="685.4" width="7.6" height="3.0" fill="#55a8d4" stroke="#2878a8" stroke-width="1.1"/>
<rect x="720.4" y="688.4" width="7.6" height="1.7" fill="#55a8d4" stroke="#2878a8" stroke-width="1.1"/>
<rect x="731.0" y="688.4" width="7.6" height="7.0" fill="#55a8d4" stroke="#2878a8" stroke-width="1.1"/>
<rect x="741.6" y="688.4" width="7.6" height="11.3" fill="#55a8d4" stroke="#2878a8" stroke-width="1.1"/>
<rect x="752.2" y="688.4" width="7.6" height="12.6" fill="#55a8d4" stroke="#2878a8" stroke-width="1.1"/>
<rect x="762.7" y="688.4" width="7.6" height="11.3" fill="#55a8d4" stroke="#2878a8" stroke-width="1.1"/>
<rect x="773.3" y="688.4" width="7.6" height="9.9" fill="#55a8d4" stroke="#2878a8" stroke-width="1.1"/>
<rect x="783.9" y="688.4" width="7.6" height="4.6" fill="#55a8d4" stroke="#2878a8" stroke-width="1.1"/>
<rect x="794.5" y="688.4" width="7.6" height="3.2" fill="#55a8d4" stroke="#2878a8" stroke-width="1.1"/>
<rect x="805.1" y="688.4" width="7.6" height="4.6" fill="#55a8d4" stroke="#2878a8" stroke-width="1.1"/>
<rect x="815.7" y="688.4" width="7.6" height="1.9" fill="#55a8d4" stroke="#2878a8" stroke-width="1.1"/>
<rect x="826.2" y="681.2" width="7.6" height="7.2" fill="#55a8d4" stroke="#2878a8" stroke-width="1.1"/>
<rect x="836.8" y="679.8" width="7.6" height="8.6" fill="#55a8d4" stroke="#2878a8" stroke-width="1.1"/>
<rect x="847.4" y="678.5" width="7.6" height="9.9" fill="#55a8d4" stroke="#2878a8" stroke-width="1.1"/>
<rect x="858.0" y="683.9" width="7.6" height="4.5" fill="#55a8d4" stroke="#2878a8" stroke-width="1.1"/>
<rect x="868.6" y="688.4" width="7.6" height="9.9" fill="#55a8d4" stroke="#2878a8" stroke-width="1.1"/>
<rect x="879.1" y="688.4" width="7.6" height="21.5" fill="#55a8d4" stroke="#2878a8" stroke-width="1.1"/>
<rect x="889.7" y="688.4" width="7.6" height="27.6" fill="#55a8d4" stroke="#2878a8" stroke-width="1.1"/>
<rect x="900.3" y="688.4" width="7.6" height="30.3" fill="#55a8d4" stroke="#2878a8" stroke-width="1.1"/>
<rect x="910.9" y="688.4" width="7.6" height="31.6" fill="#55a8d4" stroke="#2878a8" stroke-width="1.1"/>
<rect x="921.5" y="688.4" width="7.6" height="33.0" fill="#55a8d4" stroke="#2878a8" stroke-width="1.1"/>
<rect x="932.1" y="688.4" width="7.6" height="30.3" fill="#55a8d4" stroke="#2878a8" stroke-width="1.1"/>
<rect x="942.6" y="688.4" width="7.6" height="22.3" fill="#55a8d4" stroke="#2878a8" stroke-width="1.1"/>
</g>
<rect x="21.5" y="609.0" width="935.5" height="143.5" fill="none" stroke="#a6a6a6" stroke-width="1.05"/>
<line x1="957.0" x2="959.4" y1="625.7" y2="625.7" stroke="#b4b4b4" stroke-width="1"/>
<line x1="957.0" x2="959.4" y1="646.6" y2="646.6" stroke="#b4b4b4" stroke-width="1"/>
<line x1="957.0" x2="959.4" y1="667.5" y2="667.5" stroke="#b4b4b4" stroke-width="1"/>
<line x1="957.0" x2="959.4" y1="688.4" y2="688.4" stroke="#b4b4b4" stroke-width="1"/>
<line x1="957.0" x2="959.4" y1="709.3" y2="709.3" stroke="#b4b4b4" stroke-width="1"/>
<line x1="957.0" x2="959.4" y1="730.2" y2="730.2" stroke="#b4b4b4" stroke-width="1"/>
<text transform="translate(984.4,629.9) scale(1.08,1)" font-size="12.5" text-anchor="end" fill="#000" >1.5</text>
<text transform="translate(984.4,650.8) scale(1.08,1)" font-size="12.5" text-anchor="end" fill="#000" >1.0</text>
<text transform="translate(984.4,671.7) scale(1.08,1)" font-size="12.5" text-anchor="end" fill="#000" >0.5</text>
<text transform="translate(984.4,692.6) scale(1.08,1)" font-size="12.5" text-anchor="end" fill="#000" >0.0</text>
<text transform="translate(984.4,734.4) scale(1.08,1)" font-size="12.5" text-anchor="end" fill="#000" >-1.0</text>
<polygon points="954.2,709.9 959.7,703.3 1001,703.3 1001,716.5 959.7,716.5" fill="#fff" stroke="#3a6fb5" stroke-width="1.4" stroke-linejoin="miter"/>
<text transform="translate(960.4,714.2) scale(1.08,1)" font-size="12.5" text-anchor="start" fill="#000" >-0.527</text>
<g fill="#4a8fc8" stroke="#2a5f9a" stroke-width="0.8"><rect x="25" y="616" width="2.6" height="7"/><rect x="28.8" y="612" width="2.6" height="11"/><rect x="32.6" y="614" width="2.6" height="9"/></g>
<text transform="translate(40.6,622.4) scale(1.24,1)" font-size="12.4" text-anchor="start" letter-spacing="0.31" fill="#000" stroke="#000" stroke-width="0.25">MACD(12,26,9) Hist -0.527</text>
<line x1="21.5" x2="957.0" y1="868.8" y2="868.8" stroke="#e3e3e3" stroke-width="1.1"/>
<line x1="21.5" x2="957.0" y1="837.7" y2="837.7" stroke="#e3e3e3" stroke-width="1.1"/>
<line x1="21.5" x2="957.0" y1="806.6" y2="806.6" stroke="#e3e3e3" stroke-width="1.1"/>
<line x1="21.5" x2="957.0" y1="775.5" y2="775.5" stroke="#e3e3e3" stroke-width="1.1"/>
<line x1="68.5" x2="68.5" y1="752.5" y2="895.9" stroke="#d9d9d9" stroke-width="1.1"/>
<line x1="121.4" x2="121.4" y1="752.5" y2="895.9" stroke="#d9d9d9" stroke-width="1.1"/>
<line x1="174.3" x2="174.3" y1="752.5" y2="895.9" stroke="#d9d9d9" stroke-width="1.1"/>
<line x1="227.3" x2="227.3" y1="752.5" y2="895.9" stroke="#d9d9d9" stroke-width="1.1"/>
<line x1="280.2" x2="280.2" y1="752.5" y2="895.9" stroke="#d9d9d9" stroke-width="1.1"/>
<line x1="333.1" x2="333.1" y1="752.5" y2="895.9" stroke="#d9d9d9" stroke-width="1.1"/>
<line x1="428.3" x2="428.3" y1="752.5" y2="895.9" stroke="#d9d9d9" stroke-width="1.1"/>
<line x1="481.2" x2="481.2" y1="752.5" y2="895.9" stroke="#d9d9d9" stroke-width="1.1"/>
<line x1="534.1" x2="534.1" y1="752.5" y2="895.9" stroke="#d9d9d9" stroke-width="1.1"/>
<line x1="587.0" x2="587.0" y1="752.5" y2="895.9" stroke="#d9d9d9" stroke-width="1.1"/>
<line x1="640.0" x2="640.0" y1="752.5" y2="895.9" stroke="#d9d9d9" stroke-width="1.1"/>
<line x1="692.9" x2="692.9" y1="752.5" y2="895.9" stroke="#d9d9d9" stroke-width="1.1"/>
<line x1="745.8" x2="745.8" y1="752.5" y2="895.9" stroke="#d9d9d9" stroke-width="1.1"/>
<line x1="798.7" x2="798.7" y1="752.5" y2="895.9" stroke="#d9d9d9" stroke-width="1.1"/>
<line x1="851.6" x2="851.6" y1="752.5" y2="895.9" stroke="#d9d9d9" stroke-width="1.1"/>
<line x1="904.5" x2="904.5" y1="752.5" y2="895.9" stroke="#d9d9d9" stroke-width="1.1"/>
<line x1="153.2" x2="153.2" y1="752.5" y2="895.9" stroke="#bababa" stroke-width="1.2"/>
<line x1="386.0" x2="386.0" y1="752.5" y2="895.9" stroke="#bababa" stroke-width="1.2"/>
<line x1="597.6" x2="597.6" y1="752.5" y2="895.9" stroke="#bababa" stroke-width="1.2"/>
<line x1="841.0" x2="841.0" y1="752.5" y2="895.9" stroke="#bababa" stroke-width="1.2"/>
<rect x="23" y="755" width="140" height="14" fill="#fff"/>
<polyline points="21.5,798.5 25.8,784.8 36.4,787.3 47.0,804.8 57.5,822.2 68.1,807.7 78.7,813.5 89.3,840.1 99.9,828.4 110.5,806.5 121.0,806.5 131.6,805.3 142.2,797.8 152.8,824.2 163.4,850.8 173.9,886.9 184.5,870.2 195.1,879.5 205.7,854.6 216.3,844.6 226.9,857.1 237.4,841.6 248.0,837.9 258.6,817.7 269.2,809.2 279.8,796.5 290.4,804.3 300.9,791.6 311.5,797.3 322.1,775.6 332.7,781.9 343.3,786.1 353.8,786.1 364.4,778.6 375.0,769.4 385.6,801.5 396.2,804.3 406.8,816.0 417.3,841.4 427.9,819.7 438.5,823.4 449.1,817.2 459.7,807.3 470.2,797.8 480.8,790.3 491.4,784.8 502.0,791.1 512.6,764.2 523.2,777.9 533.7,771.6 544.3,770.4 554.9,787.3 565.5,769.4 576.1,764.2 586.6,761.7 597.2,778.1 607.8,783.6 618.4,796.5 629.0,787.3 639.6,812.2 650.1,806.5 660.7,795.3 671.3,804.0 681.9,784.8 692.5,774.4 703.0,783.6 713.6,781.1 724.2,787.3 734.8,783.6 745.4,801.5 756.0,819.5 766.5,825.9 777.1,829.9 787.7,845.5 798.3,840.1 808.9,855.4 819.5,854.3 830.0,876.3 840.6,871.5 851.2,870.1 861.8,853.5 872.4,830.2 882.9,823.5 893.5,821.4 904.1,823.5 914.7,832.1 925.3,830.2 935.9,844.1 946.4,853.0" fill="none" stroke="#111" stroke-width="2.3" stroke-linejoin="miter"/>
<rect x="21.5" y="752.5" width="935.5" height="143.39999999999998" fill="none" stroke="#a6a6a6" stroke-width="1.05"/>
<line x1="957.0" x2="959.4" y1="868.8" y2="868.8" stroke="#b4b4b4" stroke-width="1"/>
<line x1="957.0" x2="959.4" y1="837.7" y2="837.7" stroke="#b4b4b4" stroke-width="1"/>
<line x1="957.0" x2="959.4" y1="806.6" y2="806.6" stroke="#b4b4b4" stroke-width="1"/>
<line x1="957.0" x2="959.4" y1="775.5" y2="775.5" stroke="#b4b4b4" stroke-width="1"/>
<line x1="957.0" x2="958.6" y1="884.3" y2="884.3" stroke="#bcbcbc" stroke-width="1"/>
<line x1="957.0" x2="958.6" y1="853.2" y2="853.2" stroke="#bcbcbc" stroke-width="1"/>
<line x1="957.0" x2="958.6" y1="822.1" y2="822.1" stroke="#bcbcbc" stroke-width="1"/>
<line x1="957.0" x2="958.6" y1="791.0" y2="791.0" stroke="#bcbcbc" stroke-width="1"/>
<line x1="957.0" x2="958.6" y1="759.9" y2="759.9" stroke="#bcbcbc" stroke-width="1"/>
<text transform="translate(961.2,779.2) scale(1.08,1)" font-size="12.5" text-anchor="start" fill="#000" >80</text>
<text transform="translate(961.2,810.3) scale(1.08,1)" font-size="12.5" text-anchor="start" fill="#000" >70</text>
<text transform="translate(961.2,841.4) scale(1.08,1)" font-size="12.5" text-anchor="start" fill="#000" >60</text>
<text transform="translate(961.2,872.5) scale(1.08,1)" font-size="12.5" text-anchor="start" fill="#000" >50</text>
<polygon points="954.2,853.2 959.7,846.6 996.5,846.6 996.5,859.8 959.7,859.8" fill="#fff" stroke="#000" stroke-width="1.7" stroke-linejoin="miter"/>
<text transform="translate(960.4,857.7) scale(1.0,1)" font-size="13.6" text-anchor="start" font-weight="bold" fill="#000" >55.00</text>
<line x1="24.5" x2="36.2" y1="761.4" y2="761.4" stroke="#000" stroke-width="2.6"/>
<text transform="translate(40.6,766.3) scale(1.24,1)" font-size="12.4" text-anchor="start" letter-spacing="-0.05" fill="#000" stroke="#000" stroke-width="0.25">$SPXA50R 55.00</text>
<text transform="translate(21.7,18.0) scale(1.0,1)" font-size="16.6" text-anchor="start" font-weight="bold" fill="#111" >$VIX</text>
<text transform="translate(63.5,18.0) scale(1.0,1)" font-size="13.9" text-anchor="start" fill="#111" >Volatility Index - New Methodology</text>
<text transform="translate(283.7,17.6) scale(1.0,1)" font-size="13.1" text-anchor="start" fill="#222" >INDX</text>
<text transform="translate(21.5,33.5) scale(1.05,1)" font-size="12.6" text-anchor="start" fill="#111" >15-Nov-2024</text>
<text transform="translate(841.2,17.2) scale(0.925,1)" font-size="14.4" text-anchor="start" fill="#505050" stroke="#505050" stroke-width="0.25">© StockCharts.com</text>
<text transform="translate(482.5,33.4) scale(1.09,1)" font-size="13.2" text-anchor="start" font-weight="bold" fill="#111" >Open</text>
<text transform="translate(524.8,33.4) scale(1.05,1)" font-size="12.6" text-anchor="start" fill="#111" >15.02</text>
<text transform="translate(566.4,33.4) scale(1.09,1)" font-size="13.2" text-anchor="start" font-weight="bold" fill="#111" >High</text>
<text transform="translate(602.7,33.4) scale(1.05,1)" font-size="12.6" text-anchor="start" fill="#111" >17.55</text>
<text transform="translate(643.6,33.4) scale(1.09,1)" font-size="13.2" text-anchor="start" font-weight="bold" fill="#111" >Low</text>
<text transform="translate(680.4,33.4) scale(1.05,1)" font-size="12.6" text-anchor="start" fill="#111" >14.56</text>
<text transform="translate(722.3,33.4) scale(1.09,1)" font-size="13.2" text-anchor="start" font-weight="bold" fill="#111" >Close</text>
<text transform="translate(768.4,33.4) scale(1.05,1)" font-size="12.6" text-anchor="start" fill="#111" >16.14</text>
<text transform="translate(810.0,33.4) scale(1.09,1)" font-size="13.2" text-anchor="start" font-weight="bold" fill="#111" >Chg</text>
<text transform="translate(842.4,33.4) scale(1.05,1)" font-size="12.6" text-anchor="start" fill="#111" >+1.83</text>
<text transform="translate(881.0,33.4) scale(1.05,1)" font-size="12.6" text-anchor="start" fill="#111" >(+12.79%)</text>
<polygon points="947.7,32.4 956.2,32.4 951.9,26.9" fill="#1a6a1a"/>
</g>
</svg>
</body></html>
